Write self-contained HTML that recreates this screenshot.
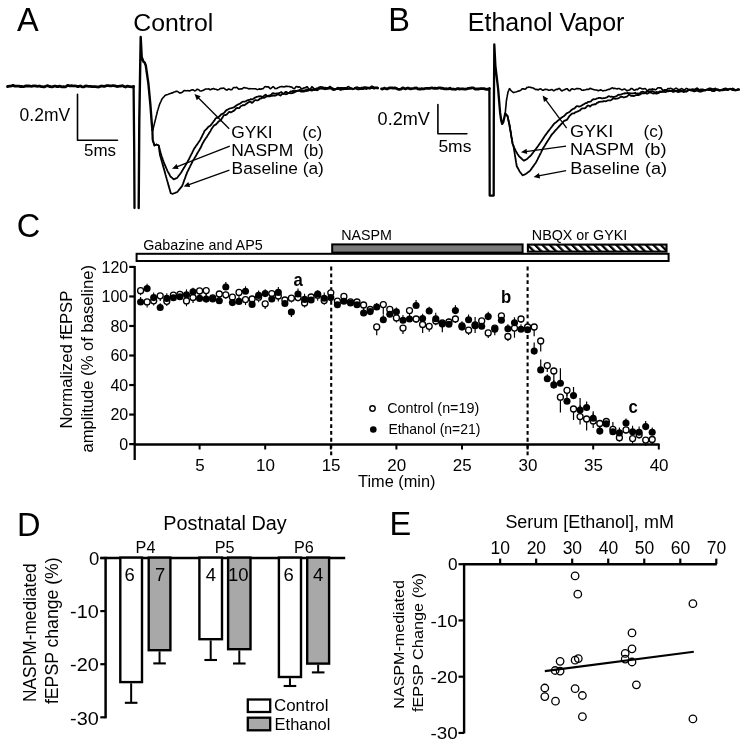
<!DOCTYPE html>
<html><head><meta charset="utf-8"><style>
html,body{margin:0;padding:0;background:#fff;}
svg{display:block;filter:blur(0.35px);}
text{font-family:"Liberation Sans", sans-serif;fill:#000;}
</style></head><body>
<svg width="749" height="747" viewBox="0 0 749 747">
<rect width="749" height="747" fill="#fff"/>
<text x="17" y="31" font-size="32.5" text-anchor="start" font-weight="normal" >A</text>
<text x="388.3" y="31" font-size="32.5" text-anchor="start" font-weight="normal" >B</text>
<text x="16.8" y="237" font-size="32.5" text-anchor="start" font-weight="normal" >C</text>
<text x="16.9" y="535.5" font-size="32.5" text-anchor="start" font-weight="normal" >D</text>
<text x="389.5" y="535.3" font-size="32.5" text-anchor="start" font-weight="normal" >E</text>
<text x="133.3" y="31.2" font-size="24.8" text-anchor="start" font-weight="normal" >Control</text>
<text x="467.8" y="31.2" font-size="25" text-anchor="start" font-weight="normal" >Ethanol Vapor</text>
<polyline points="7.5,86.5 8.5,86.4 9.5,86.2 10.5,86.2 11.5,86.0 12.5,85.5 13.5,85.5 14.5,86.2 15.5,86.2 16.5,86.2 17.5,86.2 18.5,86.1 19.5,86.2 20.5,86.7 21.5,86.4 22.5,86.7 23.5,86.7 24.5,86.4 25.5,86.0 26.5,86.0 27.5,86.0 28.5,86.0 29.5,86.0 30.5,86.2 31.5,86.3 32.5,86.2 33.5,85.8 34.5,85.8 35.5,86.0 36.5,86.1 37.5,86.3 38.5,86.2 39.5,86.0 40.5,86.4 41.5,86.7 42.5,86.6 43.5,86.8 44.5,86.9 45.5,86.3 46.5,86.0 47.5,85.7 48.5,86.0 49.5,86.5 50.5,86.5 51.5,86.8 52.5,86.8 53.5,86.4 54.5,86.2 55.5,86.2 56.5,86.5 57.5,86.6 58.5,86.5 59.5,86.2 60.5,86.4 61.5,86.8 62.5,86.9 63.5,86.7 64.5,86.8 65.5,86.8 66.5,86.1 67.5,85.5 68.5,85.5 69.5,85.8 70.5,85.9 71.6,85.7 72.6,85.8 73.6,86.0 74.6,85.8 75.6,86.0 76.6,86.2 77.6,86.6 78.6,86.5 79.6,86.2 80.6,86.0 81.6,86.6 82.6,86.8 83.6,86.9 84.6,86.4 85.6,86.0 86.6,86.0 87.6,86.2 88.6,86.3 89.6,86.4 90.6,86.3 91.6,86.6 92.6,86.6 93.6,86.7 94.6,86.5 95.6,86.7 96.6,86.9 97.6,86.9 98.6,87.0 99.6,86.6 100.6,86.2 101.6,86.0 102.6,86.2 103.6,86.4 104.6,86.4 105.6,86.0 106.6,85.7 107.6,85.6 108.6,85.7 109.6,85.8 110.6,85.9 111.6,85.8 112.6,85.7 113.6,85.7 114.6,85.8 115.6,85.9 116.6,86.4 117.6,86.5 118.6,86.3 119.6,86.2 120.6,86.1 121.6,85.8 122.6,85.7 123.6,86.2 124.6,86.7 125.6,87.0 126.6,86.4 127.6,86.2 128.6,86.4 129.6,86.6 130.6,86.7 131.6,86.8 132.6,86.8 133.6,86.4" fill="none" stroke="#000" stroke-width="2.8" stroke-linejoin="round" stroke-linecap="round" />
<polyline points="133.6,86.4 134.2,150.0 134.5,208.0" fill="none" stroke="#000" stroke-width="2.3" stroke-linejoin="round" stroke-linecap="round" />
<polyline points="138.7,208.0 139.3,120.0 140.7,37.0 141.7,56.8 143.3,61.5 144.6,62.5 145.8,65.5 148.4,83.6 150.4,105.0 151.8,123.7 152.4,130.0" fill="none" stroke="#000" stroke-width="2.4" stroke-linejoin="round" stroke-linecap="round" />
<polyline points="152.4,130.0 152.9,129.5 153.2,128.5 153.4,127.5 153.7,126.5 153.9,125.5 154.2,124.5 154.4,123.6 154.7,122.6 154.9,121.7 155.1,120.8 155.3,119.9 155.6,118.9 155.8,118.0 156.0,117.1 156.2,116.2 156.4,115.4 156.7,114.5 156.9,113.6 157.1,112.8 157.3,111.9 157.5,111.0 157.8,110.1 158.1,109.1 158.4,108.2 158.6,107.3 158.9,106.4 159.2,105.4 159.5,104.5 159.9,103.6 160.3,102.7 160.8,101.8 161.2,100.8 161.6,99.9 162.0,99.0 162.6,98.3 163.2,97.6 163.8,96.9 164.4,96.2 165.0,95.5 165.9,95.1 166.8,94.7 167.8,94.4 168.7,94.1 169.6,93.7 170.5,93.4 171.4,93.1 172.3,92.9 173.2,92.5 174.1,92.1 175.0,91.8 175.9,91.4 176.8,91.3 177.7,91.6 178.6,92.1 179.5,92.9 180.4,92.9 181.3,92.7 182.3,92.3 183.2,91.4 184.1,90.5 185.0,90.6 185.9,90.7 186.8,90.7 187.8,90.6 188.7,90.7 189.6,90.9 190.5,90.6 191.4,90.0 192.3,89.8 193.2,89.9 194.2,90.5 195.1,90.9 196.0,90.3 196.9,89.3 197.8,89.4 198.8,89.8 199.7,90.8 200.6,91.0 201.5,91.0 202.5,90.6 203.4,90.2 204.3,89.8 205.2,89.1 206.2,89.0 207.1,89.0 208.0,89.0 208.9,88.8 209.8,89.6 210.8,89.6 211.7,89.0 212.6,88.9 213.5,88.5 214.5,89.1 215.4,89.3 216.3,89.3 217.2,89.9 218.2,89.7 219.1,89.5 220.0,88.7 220.9,88.3 221.8,88.4 222.7,88.3 223.6,88.0 224.5,88.6 225.5,89.5 226.4,89.9 227.3,90.0 228.2,89.1 229.1,89.1 230.0,89.4 230.9,89.8 231.8,89.7 232.7,88.6 233.6,87.5 234.5,87.5 235.5,87.7 236.4,87.2 237.3,87.7 238.2,88.7 239.1,89.2 240.0,89.0 240.9,88.9 241.8,88.9 242.7,88.5 243.6,87.7 244.5,87.5 245.5,88.0 246.4,88.0 247.3,88.2 248.2,88.6 249.1,88.9 250.0,88.6 250.9,88.7 251.9,88.7 252.8,88.7 253.7,88.7 254.6,88.8 255.6,88.8 256.5,89.3 257.4,89.6 258.3,89.3 259.3,88.9 260.2,89.1 261.1,89.3 262.0,88.8 263.0,88.8 263.9,87.8 264.8,86.7 265.7,86.6 266.7,86.9 267.6,86.9 268.5,86.9 269.4,87.9 270.4,88.8 271.3,88.2 272.2,87.3 273.1,86.5 274.1,87.3 275.0,88.6 275.9,88.5 276.8,88.5 277.7,87.8 278.6,87.5 279.5,87.0 280.4,86.7 281.3,86.5 282.2,86.6 283.1,86.8 284.0,86.9 284.9,86.6 285.8,86.4 286.7,86.3 287.6,86.4 288.5,86.5 289.4,86.5 290.3,86.9 291.2,86.9 292.1,87.3 293.0,88.1 293.9,88.7 294.8,88.4 295.7,87.0 296.6,86.5 297.5,86.7 298.4,87.2 299.3,86.8 300.2,87.4 301.1,88.4 302.0,89.0 302.9,88.6 303.8,87.8 304.7,87.9 305.6,87.5 306.5,86.8 307.4,86.8 308.3,88.3 309.2,89.3 310.1,89.0 311.0,88.0 311.9,86.7 312.8,87.3 313.7,88.4 314.6,89.0 315.5,89.2 316.4,88.2 317.3,88.3 318.2,87.9 319.1,87.2 320.0,86.9 320.9,86.9 321.8,87.0 322.7,87.1 323.6,87.4 324.5,87.9 325.4,87.6 326.3,87.7 327.2,87.9 328.2,87.9 329.1,87.2 330.0,86.5 330.9,87.1 331.8,88.0 332.7,88.5 333.6,88.8 334.5,88.7 335.4,89.1 336.3,89.1 337.2,89.0 338.1,89.2 339.0,88.5 339.9,88.1 340.8,87.8 341.8,88.3 342.7,89.4 343.6,89.4 344.5,88.8 345.4,88.3 346.3,88.1 347.2,87.2 348.1,86.6 349.0,86.9 349.9,87.7 350.8,88.3 351.7,88.3 352.6,89.1 353.5,89.0 354.4,88.4 355.3,87.5 356.2,87.2 357.2,87.2 358.1,87.7 359.0,88.0 359.9,88.1 360.8,87.8 361.7,87.4 362.6,87.7 363.5,87.3 364.4,87.0 365.3,87.0 366.2,87.4 367.1,87.5 368.0,87.5 368.9,87.6 369.8,87.6 370.8,86.8 371.7,86.3 372.6,86.4 373.5,86.9 374.4,87.2 375.3,87.3 376.2,87.3 377.1,87.3 378.0,87.8" fill="none" stroke="#000" stroke-width="1.6" stroke-linejoin="round" stroke-linecap="round" />
<polyline points="152.4,130.0 152.4,130.9 152.5,131.8 152.5,132.8 152.5,133.7 152.5,134.6 152.6,135.5 152.6,136.4 152.6,137.3 152.6,138.3 152.7,139.2 152.7,140.1 153.0,141.0 153.3,141.9 153.6,142.8 153.9,143.7 154.2,144.6 154.5,145.5 155.5,145.0 156.5,144.5 157.6,145.0 158.7,145.5 158.9,146.4 159.2,147.3 159.4,148.2 159.7,149.1 159.9,150.1 160.1,151.0 160.4,151.9 160.6,152.8 160.9,153.7 161.1,154.6 161.4,155.5 161.7,156.5 162.1,157.4 162.4,158.3 162.7,159.3 163.0,160.2 163.4,161.1 163.7,162.1 164.0,163.0 164.4,163.8 164.7,164.7 165.1,165.5 165.5,166.4 165.8,167.2 166.2,168.0 166.6,168.9 167.0,169.7 167.3,170.6 167.7,171.4 168.2,172.2 168.6,173.1 169.1,173.9 169.6,174.8 170.0,175.7 170.5,176.5 171.3,177.2 172.1,177.9 172.9,178.6 173.7,179.3 174.8,178.9 175.9,178.4 177.0,178.0 177.6,177.2 178.1,176.5 178.7,175.7 179.3,175.0 179.9,174.2 180.4,173.5 181.0,172.7 181.5,171.9 182.0,171.1 182.5,170.3 183.0,169.4 183.5,168.6 184.0,167.8 184.5,167.0 185.0,166.2 185.4,165.4 185.9,164.6 186.3,163.8 186.8,163.0 187.3,162.2 187.7,161.4 188.2,160.6 188.6,159.7 189.1,158.9 189.5,158.0 189.9,157.2 190.3,156.3 190.8,155.5 191.2,154.6 191.6,153.7 192.1,152.9 192.5,152.0 192.9,151.2 193.3,150.3 193.8,149.5 194.2,148.6 194.7,147.8 195.3,147.1 195.8,146.3 196.3,145.6 196.8,144.9 197.4,144.1 197.9,143.3 198.4,142.6 198.9,141.8 199.5,141.0 200.0,140.1 200.4,139.3 200.8,138.6 201.3,137.8 201.7,137.0 202.1,136.1 202.5,135.2 202.9,134.4 203.3,133.6 203.8,132.7 204.2,131.7 204.6,130.7 205.3,130.2 205.9,129.6 206.6,128.9 207.3,128.1 207.9,127.4 208.6,126.7 209.3,126.2 209.9,126.0 210.6,125.4 211.2,124.6 211.9,123.7 212.5,122.8 213.2,122.0 213.8,121.1 214.5,120.3 215.1,119.2 215.8,118.3 216.4,117.9 217.1,117.9 217.7,117.8 218.4,117.4 219.0,116.7 219.7,116.0 220.5,115.3 221.2,114.4 222.0,114.0 222.7,113.9 223.4,113.3 224.2,112.7 224.9,112.0 225.6,111.0 226.4,110.3 227.1,109.9 227.9,109.5 228.6,109.0 229.5,108.7 230.3,108.3 231.2,108.1 232.0,107.9 232.9,107.6 233.7,107.3 234.6,106.9 235.4,106.2 236.3,105.5 237.1,105.0 238.0,104.5 238.8,104.1 239.7,103.7 240.5,103.4 241.4,102.5 242.2,102.0 243.1,101.7 244.0,101.7 244.8,101.7 245.7,101.3 246.5,100.8 247.4,100.4 248.2,100.1 249.1,99.8 250.0,99.5 250.8,99.1 251.7,99.4 252.5,99.3 253.4,98.8 254.2,98.2 255.1,97.6 256.0,97.2 256.8,96.9 257.7,96.7 258.5,96.4 259.4,96.4 260.2,96.2 261.1,96.3 262.0,96.9 262.9,96.8 263.9,96.0 264.8,95.3 265.7,94.6 266.6,95.4 267.5,96.0 268.5,95.7 269.4,95.3 270.3,95.5 271.2,94.7 272.1,93.6 273.1,93.2 274.0,93.5 274.9,93.7 275.8,93.7 276.7,93.5 277.6,93.5 278.6,93.4 279.5,92.9 280.4,92.5 281.3,92.0 282.2,93.1 283.2,93.8 284.1,93.5 285.0,92.4 285.9,91.9 286.8,92.2 287.7,92.8 288.6,93.1 289.5,92.6 290.4,91.5 291.3,91.5 292.2,91.3 293.1,90.9 294.0,91.1 294.9,90.7 295.8,90.8 296.7,90.8 297.6,90.7 298.5,90.9 299.4,90.8 300.3,91.1 301.2,91.6 302.1,91.7 302.9,91.5 303.8,91.6 304.7,91.4 305.6,90.4 306.5,89.5 307.4,89.7 308.3,89.9 309.2,90.1 310.1,90.1 311.0,90.3 311.9,90.6 312.8,90.2 313.7,89.6 314.6,89.3 315.5,89.3 316.4,90.1 317.3,90.3 318.2,89.7 319.1,88.8 320.0,88.4 320.9,88.3 321.8,88.5 322.7,88.4 323.6,88.5 324.5,89.2 325.4,89.3 326.3,88.7 327.2,88.6 328.2,88.5 329.1,88.2 330.0,87.8 330.9,87.9 331.8,88.2 332.7,88.4 333.6,88.8 334.5,89.0 335.4,89.3 336.3,89.1 337.2,88.6 338.1,88.5 339.0,88.2 339.9,88.2 340.8,88.0 341.8,87.9 342.7,88.0 343.6,88.2 344.5,87.9 345.4,87.9 346.3,88.0 347.2,88.2 348.1,88.7 349.0,88.8 349.9,88.9 350.8,88.9 351.7,88.9 352.6,89.3 353.5,89.0 354.4,88.7 355.3,88.5 356.2,88.6 357.2,89.1 358.1,89.4 359.0,89.3 359.9,89.1 360.8,89.1 361.7,89.1 362.6,89.0 363.5,88.8 364.4,88.7 365.3,88.7 366.2,89.0 367.1,88.8 368.0,88.3 368.9,88.1 369.8,88.4 370.8,88.2 371.7,87.9 372.6,87.6 373.5,87.6 374.4,87.7 375.3,88.1 376.2,88.2 377.1,88.5 378.0,88.2" fill="none" stroke="#000" stroke-width="1.8" stroke-linejoin="round" stroke-linecap="round" />
<polyline points="152.4,130.0 152.4,130.9 152.5,131.8 152.5,132.8 152.5,133.7 152.5,134.6 152.6,135.5 152.6,136.4 152.6,137.3 152.6,138.3 152.7,139.2 152.7,140.1 153.0,141.0 153.3,141.9 153.6,142.8 153.9,143.7 154.2,144.6 154.5,145.5 155.5,145.0 156.5,144.5 157.6,145.0 158.7,145.5 158.8,146.4 158.9,147.3 159.1,148.2 159.2,149.1 159.3,150.1 159.4,151.0 159.5,151.9 159.7,152.8 159.8,153.7 159.9,154.6 160.1,155.5 160.4,156.4 160.6,157.2 160.9,158.1 161.1,159.0 161.4,159.9 161.6,160.7 161.9,161.6 162.1,162.5 162.4,163.4 162.6,164.2 162.8,165.1 163.1,166.0 163.3,166.9 163.6,167.8 163.8,168.6 164.1,169.5 164.3,170.4 164.6,171.3 164.8,172.1 165.1,173.0 165.3,173.9 165.5,174.8 165.8,175.6 166.0,176.5 166.3,177.4 166.5,178.3 166.8,179.1 167.0,180.0 167.3,180.9 167.5,181.8 167.8,182.6 168.0,183.5 168.2,184.4 168.5,185.2 168.7,186.1 169.0,187.0 169.2,187.9 169.5,188.7 169.7,189.6 170.0,190.5 170.2,191.4 170.5,192.2 170.7,193.1 171.6,193.5 172.5,193.9 173.5,193.5 174.4,193.1 175.4,192.8 176.3,192.4 177.3,192.0 177.9,191.2 178.5,190.5 179.1,189.7 179.8,188.9 180.4,188.2 181.0,187.4 181.6,186.7 182.2,185.9 182.5,185.0 182.8,184.1 183.2,183.3 183.5,182.4 183.8,181.5 184.1,180.6 184.4,179.7 184.8,178.9 185.1,178.0 185.4,177.1 185.7,176.2 186.0,175.3 186.4,174.5 186.7,173.6 187.0,172.7 187.4,171.9 187.8,171.1 188.2,170.3 188.6,169.5 189.0,168.7 189.4,167.9 189.8,167.1 190.2,166.2 190.6,165.4 191.0,164.6 191.4,163.8 191.8,163.0 192.2,162.2 192.6,161.4 193.0,160.6 193.5,159.8 194.1,158.9 194.6,158.1 195.1,157.2 195.7,156.3 196.2,155.5 196.6,154.6 197.1,153.8 197.5,153.0 198.0,152.1 198.4,151.4 198.9,150.7 199.3,150.0 199.7,149.3 200.2,148.6 200.6,147.7 201.1,146.8 201.5,145.8 201.9,144.8 202.4,143.8 202.8,143.0 203.3,142.4 203.7,141.6 204.2,140.8 204.6,140.0 205.1,139.4 205.6,138.5 206.1,137.8 206.6,137.2 207.1,136.4 207.6,135.5 208.1,134.7 208.6,134.0 209.1,133.1 209.7,132.3 210.2,131.6 210.7,130.6 211.2,129.5 211.7,128.7 212.2,128.0 212.7,127.3 213.2,126.6 213.7,125.9 214.2,125.3 214.8,124.9 215.5,124.8 216.1,124.3 216.7,123.6 217.4,122.9 218.0,122.1 218.6,121.5 219.3,121.0 219.9,120.8 220.6,120.4 221.2,119.5 221.8,118.5 222.5,117.6 223.1,116.4 223.7,115.4 224.4,115.1 225.0,115.1 225.8,115.0 226.6,114.6 227.5,113.7 228.3,112.7 229.1,112.0 229.9,112.0 230.8,112.4 231.6,112.0 232.4,111.6 233.2,111.1 234.1,110.6 234.9,109.9 235.7,108.8 236.5,108.1 237.3,107.9 238.2,108.2 239.0,108.2 239.8,107.6 240.6,106.3 241.5,105.9 242.3,105.5 243.1,105.0 244.0,105.4 244.8,105.0 245.7,104.3 246.5,103.6 247.4,103.1 248.2,102.5 249.1,101.9 250.0,101.6 250.8,101.9 251.7,102.9 252.5,102.7 253.4,101.6 254.2,100.8 255.1,100.2 256.0,100.2 256.8,100.3 257.7,100.4 258.5,100.0 259.4,99.1 260.2,98.4 261.1,98.5 262.0,97.8 263.0,97.9 263.9,97.9 264.8,97.6 265.7,96.9 266.7,96.4 267.6,96.4 268.5,96.3 269.4,96.3 270.4,96.3 271.3,95.7 272.2,95.9 273.1,95.4 274.1,95.5 275.0,95.8 275.9,95.4 276.8,94.8 277.7,94.7 278.6,94.6 279.5,95.0 280.4,95.6 281.2,94.8 282.1,94.2 283.0,93.7 283.9,93.8 284.8,93.9 285.7,94.3 286.6,94.1 287.5,93.6 288.4,93.2 289.3,92.7 290.2,93.2 291.1,93.4 292.0,93.2 292.9,92.9 293.8,92.6 294.6,92.2 295.5,91.7 296.4,91.4 297.3,90.8 298.2,90.7 299.1,90.2 300.0,90.0 300.9,90.1 301.8,90.4 302.7,90.6 303.6,90.6 304.5,90.4 305.5,90.6 306.4,91.0 307.3,90.9 308.2,90.6 309.1,90.2 310.0,89.9 310.9,89.5 311.8,89.4 312.7,89.5 313.6,89.9 314.5,90.1 315.5,89.6 316.4,89.1 317.3,88.6 318.2,88.5 319.1,88.6 320.0,88.7 320.9,88.3 321.8,88.2 322.7,88.4 323.6,88.5 324.5,88.3 325.4,88.2 326.3,88.7 327.2,88.9 328.2,88.7 329.1,88.7 330.0,88.5 330.9,88.4 331.8,89.2 332.7,89.9 333.6,90.0 334.5,89.9 335.4,89.5 336.3,88.9 337.2,88.0 338.1,87.7 339.0,88.6 339.9,89.7 340.8,90.0 341.8,89.4 342.7,88.6 343.6,88.4 344.5,89.1 345.4,89.2 346.3,89.1 347.2,89.1 348.1,88.7 349.0,88.6 349.9,88.4 350.8,88.2 351.7,88.3 352.6,88.8 353.5,88.7 354.4,88.4 355.3,87.9 356.2,87.8 357.2,87.6 358.1,87.7 359.0,87.9 359.9,88.3 360.8,88.7 361.7,88.9 362.6,88.8 363.5,88.5 364.4,88.3 365.3,87.8 366.2,87.9 367.1,87.6 368.0,87.9 368.9,88.3 369.8,88.6 370.8,88.2 371.7,88.0 372.6,88.2 373.5,88.5 374.4,88.6 375.3,88.1 376.2,88.0 377.1,87.6 378.0,88.4" fill="none" stroke="#000" stroke-width="1.8" stroke-linejoin="round" stroke-linecap="round" />
<polyline points="77.5,94.3 77.5,140.2 117.5,140.2" fill="none" stroke="#000" stroke-width="1.6" stroke-linejoin="round" stroke-linecap="round" stroke-linecap="butt" stroke-linejoin="miter"/>
<text x="19.6" y="120.6" font-size="17.6" text-anchor="start" font-weight="normal" textLength="50.5" lengthAdjust="spacingAndGlyphs" >0.2mV</text>
<text x="84" y="156" font-size="16.5" text-anchor="start" font-weight="normal" textLength="32" lengthAdjust="spacingAndGlyphs" >5ms</text>
<line x1="229.2" y1="128.7" x2="198.03553390593274" y2="97.53553390593274" stroke="#000" stroke-width="1.3" />
<polygon points="194.5,94.0 200.7,96.3 196.8,100.2" fill="#000"/>
<line x1="229.8" y1="146.1" x2="176.65395317543306" y2="166.97223638265868" stroke="#000" stroke-width="1.3" />
<polygon points="172.0,168.8 176.6,164.1 178.6,169.1" fill="#000"/>
<line x1="229.4" y1="170.2" x2="188.30731273716145" y2="184.91441203298146" stroke="#000" stroke-width="1.3" />
<polygon points="183.6,186.6 188.3,182.0 190.2,187.1" fill="#000"/>
<text x="231.2" y="137.8" font-size="16.3" text-anchor="start" font-weight="normal" textLength="41.5" lengthAdjust="spacingAndGlyphs" >GYKI</text>
<text x="302.2" y="137.8" font-size="16.3" text-anchor="start" font-weight="normal" textLength="20" lengthAdjust="spacingAndGlyphs" >(c)</text>
<text x="231.2" y="155.8" font-size="16.3" text-anchor="start" font-weight="normal" textLength="62" lengthAdjust="spacingAndGlyphs" >NASPM</text>
<text x="303.6" y="155.8" font-size="16.3" text-anchor="start" font-weight="normal" textLength="20.2" lengthAdjust="spacingAndGlyphs" >(b)</text>
<text x="231.6" y="174.2" font-size="16.3" text-anchor="start" font-weight="normal" textLength="92.3" lengthAdjust="spacingAndGlyphs" >Baseline (a)</text>
<polyline points="381.5,88.9 382.5,89.0 383.5,88.5 384.5,88.2 385.5,88.5 386.5,88.9 387.6,88.8 388.6,88.3 389.6,87.9 390.6,87.8 391.6,87.9 392.6,88.0 393.6,88.2 394.6,87.9 395.6,88.2 396.6,88.5 397.6,89.0 398.6,89.3 399.7,89.3 400.7,89.2 401.7,88.7 402.7,87.9 403.7,88.2 404.7,88.6 405.7,88.9 406.7,88.3 407.7,88.0 408.7,88.2 409.7,88.7 410.7,88.9 411.8,88.7 412.8,88.5 413.8,88.3 414.8,88.0 415.8,88.1 416.8,88.0 417.8,88.8 418.8,89.0 419.8,88.9 420.8,89.0 421.8,88.7 422.8,88.8 423.9,88.8 424.9,88.5 425.9,88.3 426.9,88.3 427.9,88.4 428.9,88.4 429.9,88.3 430.9,88.0 431.9,87.8 432.9,88.1 433.9,88.3 434.9,88.1 436.0,88.4 437.0,88.4 438.0,88.1 439.0,87.9 440.0,87.8 441.0,88.3 442.0,88.2 443.0,88.3 444.0,88.8 445.0,88.8 446.0,88.7 447.0,88.8 448.1,88.9 449.1,88.7 450.1,88.2 451.1,89.0 452.1,89.2 453.1,89.0 454.1,89.2 455.1,89.3 456.1,89.1 457.1,88.7 458.1,88.5 459.1,89.0 460.2,88.8 461.2,88.9 462.2,88.8 463.2,88.8 464.2,89.2 465.2,89.1 466.2,89.0 467.2,88.8 468.2,88.4 469.2,88.4 470.2,88.1 471.2,88.0 472.3,87.8 473.3,87.9 474.3,88.5 475.3,89.2 476.3,89.0 477.3,88.9 478.3,89.0 479.3,88.9 480.3,88.7 481.3,88.5 482.3,88.7 483.3,88.6 484.4,88.7 485.4,89.2 486.4,89.3 487.4,89.1 488.4,89.3 489.4,88.6" fill="none" stroke="#000" stroke-width="2.8" stroke-linejoin="round" stroke-linecap="round" />
<polyline points="489.4,88.6 489.6,150.0 489.7,195.6 493.7,195.6 493.8,120.0 494.3,44.4 495.4,65.8 498.1,88.6 500.1,112.7 501.3,121.0 502.2,123.9 503.3,122.0 505.2,113.7" fill="none" stroke="#000" stroke-width="2.3" stroke-linejoin="round" stroke-linecap="round" />
<polyline points="505.2,113.7 505.3,112.8 505.4,111.9 505.5,111.0 505.5,110.0 505.6,109.1 505.7,108.2 505.8,107.3 505.9,106.4 506.0,105.5 506.1,104.6 506.2,103.7 506.2,102.7 506.3,101.8 506.4,100.9 506.5,100.0 506.7,99.1 506.8,98.2 507.0,97.3 507.2,96.4 507.3,95.6 507.5,94.7 507.7,93.8 507.8,92.9 508.0,92.0 508.4,91.2 508.8,90.3 509.1,89.4 509.5,88.6 510.2,89.4 510.8,90.2 511.5,91.0 512.5,91.8 513.5,92.6 514.5,92.2 515.4,92.0 516.4,91.7 517.3,91.4 518.3,91.1 519.2,90.9 520.2,90.6 521.2,89.8 522.1,88.9 523.1,88.7 524.0,88.9 525.0,89.2 525.9,88.8 526.9,87.4 527.8,87.5 528.8,87.1 529.7,87.2 530.6,87.4 531.6,87.6 532.5,87.7 533.5,88.2 534.4,88.7 535.3,89.4 536.3,89.6 537.2,89.3 538.1,90.0 539.1,89.3 540.0,88.9 540.9,89.0 541.8,89.7 542.7,90.3 543.6,90.1 544.5,89.5 545.5,89.2 546.4,89.4 547.3,89.5 548.2,90.1 549.1,90.3 550.0,90.1 550.9,89.8 551.8,89.6 552.7,90.0 553.6,90.8 554.5,90.5 555.5,89.7 556.4,89.2 557.3,89.5 558.2,88.8 559.1,88.4 560.0,89.0 560.9,90.2 561.8,90.9 562.7,90.5 563.6,90.1 564.5,89.8 565.5,89.2 566.4,88.8 567.3,88.7 568.2,89.9 569.1,90.8 570.0,90.6 570.9,89.6 571.8,88.7 572.7,88.9 573.6,89.3 574.5,89.5 575.5,89.1 576.4,88.6 577.3,88.5 578.2,88.6 579.1,88.7 580.0,88.7 580.9,89.4 581.8,90.1 582.7,90.3 583.6,90.1 584.5,90.0 585.5,89.7 586.4,89.4 587.3,89.3 588.2,89.4 589.1,89.2 590.0,88.4 590.9,88.6 591.8,88.9 592.7,89.2 593.6,89.6 594.5,89.7 595.5,90.0 596.4,90.0 597.3,90.3 598.2,90.8 599.1,90.4 600.0,90.1 600.9,89.9 601.8,90.3 602.7,90.9 603.6,90.8 604.5,90.5 605.5,90.5 606.4,90.3 607.3,89.7 608.2,89.4 609.1,89.5 610.0,89.1 610.9,88.5 611.8,88.0 612.7,87.9 613.6,88.6 614.5,88.3 615.5,88.5 616.4,88.7 617.3,88.9 618.2,88.5 619.1,88.5 620.0,88.9 620.9,89.4 621.8,89.9 622.7,89.7 623.6,89.3 624.5,89.1 625.5,89.5 626.4,90.6 627.3,90.7 628.2,90.2 629.1,90.1 630.0,89.7 630.9,88.5 631.8,88.6 632.7,89.0 633.6,89.9 634.5,90.2 635.5,89.7 636.4,89.3 637.3,89.7 638.2,89.0 639.1,88.1 640.0,88.1 640.9,88.2 641.8,88.8 642.7,89.0 643.6,88.9 644.5,88.6 645.5,88.8 646.4,89.8 647.3,90.6 648.2,90.2 649.1,89.3 650.0,89.4 650.9,89.6 651.8,89.1 652.7,88.9 653.6,89.2 654.5,89.3 655.5,89.9 656.4,89.3 657.3,88.3 658.2,87.8 659.1,87.7 660.0,88.1 660.9,87.8 661.8,89.0 662.7,90.2 663.6,90.2 664.5,89.7 665.5,89.8 666.4,89.7 667.3,89.2 668.2,88.5 669.1,89.0 670.0,88.4 670.9,88.4 671.8,88.8 672.7,89.1 673.6,89.6 674.5,89.1 675.5,88.4 676.4,88.2 677.3,88.9 678.2,89.5 679.1,89.5 680.0,89.3 680.9,88.9 681.8,88.6 682.7,89.1 683.6,89.7 684.5,89.8 685.4,89.2 686.4,88.4 687.3,88.7 688.2,89.4 689.1,89.9 690.0,89.8 690.9,89.4 691.8,89.2 692.7,89.1 693.6,89.3 694.5,89.4 695.4,89.2 696.3,88.5 697.2,88.1 698.2,88.9 699.1,89.7 700.0,89.9 700.9,89.2 701.8,89.3 702.7,89.3 703.6,89.6 704.5,89.9 705.4,89.9 706.3,90.1 707.2,89.6 708.1,89.0 709.0,88.4 710.0,88.2 710.9,88.4 711.8,89.0 712.7,89.3 713.6,89.3 714.5,88.7 715.4,88.3 716.3,89.1 717.2,90.1 718.1,90.4 719.0,90.7 719.9,90.7 720.8,90.1 721.8,89.5 722.7,89.2 723.6,88.7 724.5,88.6 725.4,88.2 726.3,88.6 727.2,89.2 728.1,89.2 729.0,89.3 729.9,89.3 730.8,89.4 731.7,89.0 732.6,88.5 733.6,88.8 734.5,89.4 735.4,90.3 736.3,90.4 737.2,90.1 738.1,89.8 739.0,89.4" fill="none" stroke="#000" stroke-width="1.6" stroke-linejoin="round" stroke-linecap="round" />
<polyline points="505.2,113.7 506.0,114.5 506.7,115.2 507.5,116.0 507.7,116.9 507.9,117.8 508.1,118.7 508.3,119.6 508.5,120.5 508.7,121.5 508.9,122.4 509.1,123.3 509.3,124.2 509.5,125.1 509.6,126.0 509.8,126.9 509.9,127.8 510.1,128.7 510.2,129.6 510.4,130.5 510.6,131.4 510.7,132.3 510.9,133.2 511.0,134.1 511.1,135.1 511.3,136.0 511.4,136.9 511.6,137.8 511.8,138.7 511.9,139.6 512.0,140.5 512.2,141.4 512.4,142.3 512.5,143.2 512.8,144.1 513.2,145.1 513.5,146.0 513.9,146.9 514.3,147.8 514.8,148.8 515.2,149.7 515.6,150.6 516.0,151.5 516.5,152.3 517.0,153.1 517.5,153.9 518.1,154.8 518.6,155.6 519.1,156.4 519.8,157.0 520.5,157.6 521.2,158.2 521.8,158.9 522.5,159.5 523.2,160.1 523.9,160.7 524.9,160.1 526.0,159.6 527.0,159.0 527.7,158.4 528.4,157.7 529.0,157.1 529.7,156.5 530.4,155.8 531.1,155.2 531.7,154.5 532.2,153.7 532.8,153.0 533.3,152.2 533.9,151.5 534.5,150.8 535.0,150.0 535.6,149.3 536.2,148.6 536.7,147.8 537.3,147.1 537.8,146.3 538.4,145.6 538.9,144.8 539.4,144.1 539.9,143.3 540.5,142.5 541.0,141.7 541.5,141.0 542.0,140.2 542.5,139.4 543.0,138.7 543.5,137.9 544.1,137.1 544.6,136.3 545.1,135.6 545.6,134.8 546.2,134.1 546.7,133.3 547.3,132.6 547.8,131.9 548.4,131.2 549.0,130.4 549.5,129.7 550.1,129.0 550.6,128.3 551.2,127.5 551.8,126.8 552.3,126.1 552.9,125.4 553.4,124.6 554.0,123.9 554.7,123.3 555.4,122.7 556.1,122.2 556.8,121.6 557.5,121.0 558.2,120.4 559.0,119.8 559.7,119.2 560.4,118.5 561.1,117.9 561.8,117.4 562.5,116.9 563.3,116.5 564.1,116.0 564.8,115.3 565.6,114.5 566.4,113.6 567.2,113.1 568.0,112.7 568.8,112.3 569.5,111.9 570.3,111.2 571.1,110.3 571.9,109.7 572.7,109.1 573.4,108.7 574.2,108.6 575.0,107.8 575.8,107.0 576.7,106.2 577.5,106.2 578.3,106.4 579.2,106.7 580.0,106.3 580.8,106.0 581.7,105.4 582.5,104.9 583.3,104.4 584.2,104.1 585.0,103.6 585.8,103.1 586.7,103.1 587.5,102.3 588.3,101.9 589.2,101.8 590.0,101.7 590.9,101.4 591.8,100.4 592.7,99.5 593.6,99.2 594.5,99.3 595.5,99.2 596.4,98.8 597.3,98.3 598.2,98.1 599.1,97.8 600.0,97.8 600.9,98.1 601.8,98.4 602.7,98.3 603.6,98.1 604.5,98.1 605.4,97.9 606.2,97.7 607.1,97.2 608.0,96.5 608.9,96.2 609.8,96.5 610.7,96.8 611.6,96.5 612.5,96.8 613.4,97.0 614.3,96.9 615.2,96.7 616.1,96.2 617.0,95.9 617.9,95.0 618.8,94.6 619.6,94.8 620.5,94.7 621.4,94.3 622.3,94.0 623.2,93.7 624.1,93.6 625.0,93.1 625.9,93.4 626.9,93.2 627.8,93.0 628.7,93.1 629.6,93.2 630.6,93.3 631.5,93.4 632.4,93.4 633.3,93.3 634.3,93.2 635.2,92.7 636.1,93.6 637.0,93.6 638.0,93.4 638.9,93.6 639.8,93.3 640.7,92.3 641.7,91.8 642.6,91.7 643.5,91.9 644.4,92.3 645.4,92.2 646.3,92.0 647.2,91.5 648.1,91.4 649.1,91.5 650.0,91.3 650.9,91.3 651.8,91.2 652.7,91.1 653.6,91.5 654.5,92.3 655.5,92.3 656.4,92.0 657.3,92.1 658.2,92.2 659.1,91.9 660.0,91.4 660.9,91.5 661.8,91.7 662.7,91.8 663.6,91.6 664.5,91.0 665.5,90.2 666.4,90.2 667.3,90.6 668.2,90.9 669.1,90.9 670.0,91.2 670.9,91.2 671.8,90.8 672.7,90.0 673.6,89.9 674.5,90.5 675.5,91.0 676.4,91.0 677.3,91.0 678.2,90.2 679.1,90.4 680.0,90.4 680.9,90.5 681.8,90.8 682.7,91.1 683.6,90.7 684.5,90.9 685.4,91.2 686.4,91.4 687.3,91.1 688.2,90.0 689.1,89.4 690.0,89.8 690.9,90.6 691.8,90.5 692.7,90.4 693.6,90.4 694.5,90.3 695.4,89.9 696.3,89.6 697.2,89.9 698.2,90.0 699.1,90.2 700.0,90.4 700.9,90.1 701.8,89.8 702.7,90.1 703.6,90.3 704.5,90.2 705.4,90.2 706.3,89.7 707.2,89.7 708.1,89.7 709.0,89.7 710.0,89.8 710.9,89.5 711.8,89.4 712.7,89.1 713.6,89.2 714.5,89.8 715.4,89.6 716.3,89.7 717.2,89.5 718.1,89.4 719.0,90.0 719.9,90.4 720.8,90.2 721.8,90.1 722.7,90.1 723.6,90.1 724.5,90.1 725.4,89.8 726.3,89.8 727.2,90.0 728.1,90.2 729.0,89.4 729.9,88.7 730.8,88.9 731.7,89.6 732.6,90.1 733.6,90.1 734.5,90.3 735.4,90.3 736.3,90.1 737.2,89.4 738.1,89.0 739.0,89.5" fill="none" stroke="#000" stroke-width="1.8" stroke-linejoin="round" stroke-linecap="round" />
<polyline points="505.2,113.7 506.0,114.5 506.7,115.2 507.5,116.0 507.7,116.9 507.9,117.8 508.1,118.7 508.3,119.6 508.5,120.5 508.7,121.5 508.9,122.4 509.1,123.3 509.3,124.2 509.5,125.1 509.6,126.0 509.8,126.9 509.9,127.8 510.1,128.7 510.2,129.6 510.4,130.5 510.6,131.4 510.7,132.3 510.9,133.2 511.0,134.1 511.1,135.1 511.3,136.0 511.4,136.9 511.6,137.8 511.8,138.7 511.9,139.6 512.0,140.5 512.2,141.4 512.4,142.3 512.5,143.2 512.8,144.1 513.2,145.1 513.5,146.0 513.6,146.9 513.8,147.8 513.9,148.7 514.1,149.7 514.2,150.6 514.4,151.5 514.5,152.4 514.7,153.3 514.8,154.2 515.0,155.1 515.1,156.1 515.2,157.0 515.4,157.9 515.5,158.8 515.7,159.7 515.8,160.6 516.0,161.5 516.1,162.4 516.3,163.4 516.4,164.3 516.6,165.2 516.7,166.1 517.2,166.9 517.6,167.8 518.1,168.6 518.6,169.5 519.1,170.3 519.5,171.2 520.0,172.0 520.7,172.8 521.4,173.7 522.0,174.5 522.7,175.3 523.5,174.9 524.4,174.6 525.2,174.2 526.0,173.8 526.8,173.2 527.6,172.6 528.3,172.1 529.1,171.5 529.9,170.9 530.5,170.1 531.0,169.4 531.6,168.6 532.1,167.8 532.7,167.1 533.2,166.3 533.8,165.6 534.3,164.8 534.9,164.0 535.4,163.3 536.0,162.5 536.4,161.6 536.8,160.8 537.3,159.9 537.7,159.1 538.1,158.2 538.5,157.4 539.0,156.5 539.4,155.7 539.8,154.8 540.2,154.0 540.7,153.1 541.1,152.3 541.5,151.4 541.9,150.6 542.4,149.7 542.8,148.9 543.2,148.0 543.7,147.2 544.2,146.4 544.7,145.7 545.2,144.9 545.7,144.1 546.2,143.3 546.7,142.6 547.2,141.8 547.6,141.0 548.1,140.2 548.6,139.5 549.1,138.7 549.6,137.9 550.1,137.1 550.6,136.4 551.1,135.6 551.6,134.8 552.2,134.1 552.8,133.4 553.4,132.8 554.0,132.1 554.6,131.4 555.2,130.7 555.8,130.0 556.5,129.3 557.1,128.7 557.7,128.0 558.3,127.3 558.9,126.6 559.5,126.0 560.1,125.4 560.7,124.7 561.3,124.0 562.0,123.3 562.7,122.6 563.4,121.7 564.0,121.0 564.7,120.6 565.4,120.5 566.1,120.2 566.8,119.9 567.5,119.1 568.1,118.1 568.8,117.0 569.5,115.9 570.2,115.3 570.9,114.6 571.6,114.1 572.3,113.5 572.9,113.3 573.6,113.4 574.3,113.4 575.0,112.5 575.8,112.1 576.7,111.9 577.5,111.5 578.3,111.1 579.2,110.7 580.0,110.5 580.8,109.4 581.7,108.7 582.5,108.4 583.3,108.3 584.2,108.4 585.0,108.2 585.8,107.5 586.7,106.6 587.5,105.7 588.3,105.5 589.2,105.9 590.0,106.6 590.9,105.7 591.8,105.0 592.7,104.7 593.6,104.7 594.5,104.1 595.5,104.3 596.4,103.5 597.3,102.6 598.2,102.5 599.1,101.8 600.0,101.8 600.9,101.7 601.8,101.6 602.7,101.6 603.6,101.1 604.5,101.2 605.4,101.3 606.2,101.2 607.1,100.7 608.0,100.3 608.9,100.4 609.8,100.4 610.7,100.3 611.6,99.8 612.5,98.8 613.4,98.6 614.3,98.7 615.2,98.8 616.1,98.6 617.0,98.7 617.9,98.4 618.8,98.0 619.6,97.6 620.5,97.0 621.4,96.6 622.3,96.8 623.2,97.3 624.1,97.3 625.0,97.2 625.9,96.8 626.8,96.6 627.7,95.8 628.6,94.9 629.5,94.7 630.4,95.4 631.2,95.9 632.1,95.7 633.0,96.0 633.9,96.0 634.8,95.6 635.7,95.2 636.6,95.1 637.5,95.0 638.4,95.0 639.3,94.8 640.2,94.4 641.1,93.8 642.0,93.4 642.9,93.3 643.8,93.4 644.6,93.3 645.5,92.9 646.4,93.5 647.3,93.6 648.2,93.2 649.1,92.6 650.0,92.6 650.9,92.7 651.8,93.0 652.7,93.3 653.6,93.5 654.5,93.1 655.5,93.3 656.4,93.5 657.3,93.5 658.2,93.2 659.1,92.8 660.0,92.1 660.9,92.0 661.8,91.8 662.7,91.7 663.6,91.5 664.5,91.8 665.5,92.1 666.4,91.7 667.3,91.2 668.2,91.4 669.1,90.9 670.0,91.0 670.9,90.8 671.8,91.0 672.7,91.9 673.6,91.9 674.5,91.4 675.5,91.1 676.4,91.1 677.3,91.9 678.2,92.0 679.1,91.8 680.0,91.5 680.9,91.3 681.8,91.2 682.7,91.7 683.6,92.0 684.5,91.8 685.4,91.6 686.4,91.5 687.3,91.2 688.2,90.2 689.1,90.1 690.0,90.1 690.9,90.1 691.8,89.8 692.7,90.7 693.6,91.3 694.5,91.3 695.4,91.1 696.3,90.6 697.2,90.7 698.2,91.1 699.1,91.5 700.0,91.5 700.9,91.5 701.8,91.3 702.7,91.0 703.6,90.6 704.5,90.6 705.4,90.5 706.3,89.7 707.2,89.6 708.1,89.8 709.0,90.1 710.0,90.1 710.9,89.9 711.8,90.8 712.7,91.1 713.6,90.9 714.5,91.0 715.4,90.2 716.3,90.0 717.2,89.7 718.1,89.7 719.0,89.8 719.9,90.4 720.8,90.2 721.8,90.3 722.7,90.4 723.6,90.1 724.5,89.5 725.4,89.0 726.3,89.0 727.2,89.1 728.1,89.5 729.0,89.3 729.9,88.8 730.8,88.9 731.7,89.0 732.6,88.6 733.6,89.2 734.5,89.8 735.4,90.3 736.3,90.1 737.2,89.7 738.1,89.8 739.0,89.6" fill="none" stroke="#000" stroke-width="1.8" stroke-linejoin="round" stroke-linecap="round" />
<polyline points="437.9,104.5 437.9,133.8 466.9,133.8" fill="none" stroke="#000" stroke-width="1.6" stroke-linejoin="round" stroke-linecap="round" stroke-linecap="butt" stroke-linejoin="miter"/>
<text x="377.6" y="125.3" font-size="17.8" text-anchor="start" font-weight="normal" textLength="52.3" lengthAdjust="spacingAndGlyphs" >0.2mV</text>
<text x="438.4" y="151.6" font-size="17" text-anchor="start" font-weight="normal" textLength="33" lengthAdjust="spacingAndGlyphs" >5ms</text>
<line x1="566.7" y1="128.1" x2="545.5782060969789" y2="99.61625303534498" stroke="#000" stroke-width="1.3" />
<polygon points="542.6,95.6 548.3,98.8 544.0,102.0" fill="#000"/>
<line x1="566.1" y1="146.2" x2="525.856521753806" y2="151.54205463445052" stroke="#000" stroke-width="1.3" />
<polygon points="520.9,152.2 526.5,148.7 527.2,154.1" fill="#000"/>
<line x1="566.1" y1="170.7" x2="538.5114280915693" y2="175.96305064099292" stroke="#000" stroke-width="1.3" />
<polygon points="533.6,176.9 539.0,173.1 540.0,178.4" fill="#000"/>
<text x="570.0" y="137.1" font-size="16.8" text-anchor="start" font-weight="normal" textLength="43.2" lengthAdjust="spacingAndGlyphs" >GYKI</text>
<text x="643.5" y="137.1" font-size="16.8" text-anchor="start" font-weight="normal" textLength="20" lengthAdjust="spacingAndGlyphs" >(c)</text>
<text x="570.0" y="155.4" font-size="16.8" text-anchor="start" font-weight="normal" textLength="64" lengthAdjust="spacingAndGlyphs" >NASPM</text>
<text x="644.3" y="155.4" font-size="16.8" text-anchor="start" font-weight="normal" textLength="22.3" lengthAdjust="spacingAndGlyphs" >(b)</text>
<text x="570.3" y="174.2" font-size="16.8" text-anchor="start" font-weight="normal" textLength="96.8" lengthAdjust="spacingAndGlyphs" >Baseline (a)</text>
<defs><pattern id="hatch" patternUnits="userSpaceOnUse" width="5.23" height="5.23" patternTransform="rotate(-45)"><rect width="5.23" height="5.23" fill="#fff"/><rect width="2.3" height="5.23" fill="#000"/></pattern></defs>
<rect x="136.6" y="253.8" width="532" height="7.2" fill="#fff" stroke="#000" stroke-width="2"/>
<rect x="332.2" y="244.4" width="190.4" height="8.2" fill="#7a7a7a" stroke="#000" stroke-width="2"/>
<rect x="527.9" y="244.6" width="138.6" height="7" fill="url(#hatch)" stroke="#000" stroke-width="2.1"/>
<text x="143.2" y="249.6" font-size="14.5" text-anchor="start" font-weight="normal" textLength="119.5" lengthAdjust="spacingAndGlyphs" >Gabazine and AP5</text>
<text x="341.2" y="239.8" font-size="14.3" text-anchor="start" font-weight="normal" textLength="50.8" lengthAdjust="spacingAndGlyphs" >NASPM</text>
<text x="531.8" y="240.3" font-size="14.5" text-anchor="start" font-weight="normal" textLength="95.5" lengthAdjust="spacingAndGlyphs" >NBQX or GYKI</text>
<line x1="134.7" y1="266" x2="134.7" y2="460" stroke="#000" stroke-width="2.3" />
<line x1="133.6" y1="444.5" x2="659.5" y2="444.5" stroke="#000" stroke-width="2.3" />
<line x1="129.2" y1="444.1" x2="134.7" y2="444.1" stroke="#000" stroke-width="2.2" />
<text x="128.2" y="449.70000000000005" font-size="16" text-anchor="end" font-weight="normal" >0</text>
<line x1="129.2" y1="414.57000000000005" x2="134.7" y2="414.57000000000005" stroke="#000" stroke-width="2.2" />
<text x="128.2" y="420.1700000000001" font-size="16" text-anchor="end" font-weight="normal" >20</text>
<line x1="129.2" y1="385.04" x2="134.7" y2="385.04" stroke="#000" stroke-width="2.2" />
<text x="128.2" y="390.64000000000004" font-size="16" text-anchor="end" font-weight="normal" >40</text>
<line x1="129.2" y1="355.51000000000005" x2="134.7" y2="355.51000000000005" stroke="#000" stroke-width="2.2" />
<text x="128.2" y="361.11000000000007" font-size="16" text-anchor="end" font-weight="normal" >60</text>
<line x1="129.2" y1="325.98" x2="134.7" y2="325.98" stroke="#000" stroke-width="2.2" />
<text x="128.2" y="331.58000000000004" font-size="16" text-anchor="end" font-weight="normal" >80</text>
<line x1="129.2" y1="296.45000000000005" x2="134.7" y2="296.45000000000005" stroke="#000" stroke-width="2.2" />
<text x="128.2" y="302.05000000000007" font-size="16" text-anchor="end" font-weight="normal" >100</text>
<line x1="129.2" y1="266.9200000000001" x2="134.7" y2="266.9200000000001" stroke="#000" stroke-width="2.2" />
<text x="128.2" y="272.5200000000001" font-size="16" text-anchor="end" font-weight="normal" >120</text>
<line x1="199.6" y1="444" x2="199.6" y2="449.5" stroke="#000" stroke-width="2" />
<text x="199.9" y="470.5" font-size="17" text-anchor="middle" font-weight="normal" >5</text>
<line x1="265.2" y1="444" x2="265.2" y2="449.5" stroke="#000" stroke-width="2" />
<text x="265.5" y="470.5" font-size="17" text-anchor="middle" font-weight="normal" >10</text>
<line x1="330.79999999999995" y1="444" x2="330.79999999999995" y2="449.5" stroke="#000" stroke-width="2" />
<text x="331.09999999999997" y="470.5" font-size="17" text-anchor="middle" font-weight="normal" >15</text>
<line x1="396.4" y1="444" x2="396.4" y2="449.5" stroke="#000" stroke-width="2" />
<text x="396.7" y="470.5" font-size="17" text-anchor="middle" font-weight="normal" >20</text>
<line x1="462.0" y1="444" x2="462.0" y2="449.5" stroke="#000" stroke-width="2" />
<text x="462.3" y="470.5" font-size="17" text-anchor="middle" font-weight="normal" >25</text>
<line x1="527.5999999999999" y1="444" x2="527.5999999999999" y2="449.5" stroke="#000" stroke-width="2" />
<text x="527.8999999999999" y="470.5" font-size="17" text-anchor="middle" font-weight="normal" >30</text>
<line x1="593.2" y1="444" x2="593.2" y2="449.5" stroke="#000" stroke-width="2" />
<text x="593.5" y="470.5" font-size="17" text-anchor="middle" font-weight="normal" >35</text>
<line x1="658.8" y1="444" x2="658.8" y2="449.5" stroke="#000" stroke-width="2" />
<text x="659.0999999999999" y="470.5" font-size="17" text-anchor="middle" font-weight="normal" >40</text>
<text x="396.8" y="487.1" font-size="16.5" text-anchor="middle" font-weight="normal" textLength="77.5" lengthAdjust="spacingAndGlyphs" >Time (min)</text>
<text transform="translate(71.5,359.6) rotate(-90)" font-size="16" text-anchor="middle" textLength="137.8" lengthAdjust="spacingAndGlyphs">Normalized fEPSP</text>
<text transform="translate(92.6,358.8) rotate(-90)" font-size="16.5" text-anchor="middle" textLength="187.5" lengthAdjust="spacingAndGlyphs">amplitude (% of baseline)</text>
<line x1="331.2" y1="266.6" x2="331.2" y2="455.8" stroke="#000" stroke-width="2.1" stroke-dasharray="3.8 3.05"/>
<line x1="527.6" y1="266.6" x2="527.6" y2="455.8" stroke="#000" stroke-width="2.1" stroke-dasharray="3.8 3.05"/>
<line x1="140.56" y1="290.7" x2="140.56" y2="295.2952350177216" stroke="#000" stroke-width="1.1" />
<line x1="140.56" y1="296.9685007506229" x2="140.56" y2="302.0" stroke="#000" stroke-width="1.1" />
<line x1="147.12" y1="301.9" x2="147.12" y2="307.5332632848522" stroke="#000" stroke-width="1.1" />
<line x1="147.12" y1="283.7755698457805" x2="147.12" y2="288.6" stroke="#000" stroke-width="1.1" />
<line x1="153.68" y1="300.8" x2="153.68" y2="305.51725080073703" stroke="#000" stroke-width="1.1" />
<line x1="153.68" y1="292.5077533765302" x2="153.68" y2="297.6" stroke="#000" stroke-width="1.1" />
<line x1="160.24" y1="295.8" x2="160.24" y2="301" stroke="#000" stroke-width="1.2" />
<line x1="160.24" y1="303.29374724351925" x2="160.24" y2="307.5" stroke="#000" stroke-width="1.1" />
<line x1="166.8" y1="301.3" x2="166.8" y2="306.026199005892" stroke="#000" stroke-width="1.1" />
<line x1="166.8" y1="293.214258015523" x2="166.8" y2="298.4" stroke="#000" stroke-width="1.1" />
<line x1="173.36" y1="295.1" x2="173.36" y2="300.4445491195439" stroke="#000" stroke-width="1.1" />
<line x1="173.36" y1="293.6929283962957" x2="173.36" y2="297.7" stroke="#000" stroke-width="1.1" />
<line x1="179.92" y1="294.4" x2="179.92" y2="298.66748277777396" stroke="#000" stroke-width="1.1" />
<line x1="179.92" y1="292.70052481751793" x2="179.92" y2="296.7" stroke="#000" stroke-width="1.1" />
<line x1="186.48" y1="300.9" x2="186.48" y2="306.2812179756078" stroke="#000" stroke-width="1.1" />
<line x1="186.48" y1="289.3744353384092" x2="186.48" y2="294.7" stroke="#000" stroke-width="1.1" />
<line x1="193.04" y1="297.5" x2="193.04" y2="303" stroke="#000" stroke-width="1.2" />
<line x1="193.04" y1="287.80786325998633" x2="193.04" y2="291.7" stroke="#000" stroke-width="1.1" />
<line x1="199.6" y1="290.9" x2="199.6" y2="296.66082552575733" stroke="#000" stroke-width="1.1" />
<line x1="199.6" y1="292.4775328815237" x2="199.6" y2="298.4" stroke="#000" stroke-width="1.1" />
<line x1="206.16" y1="290.6" x2="206.16" y2="295.6386295737745" stroke="#000" stroke-width="1.1" />
<line x1="206.16" y1="293.94576204992717" x2="206.16" y2="299.1" stroke="#000" stroke-width="1.1" />
<line x1="212.72" y1="298.0" x2="212.72" y2="301.9464870093084" stroke="#000" stroke-width="1.1" />
<line x1="212.72" y1="295.16699837871084" x2="212.72" y2="299.0" stroke="#000" stroke-width="1.1" />
<line x1="219.28" y1="294.0" x2="219.28" y2="298.76243878557506" stroke="#000" stroke-width="1.1" />
<line x1="219.28" y1="296.86898756862854" x2="219.28" y2="300.8" stroke="#000" stroke-width="1.1" />
<line x1="225.83999999999997" y1="294.8" x2="225.83999999999997" y2="298.8184581781555" stroke="#000" stroke-width="1.1" />
<line x1="225.83999999999997" y1="282" x2="225.83999999999997" y2="287" stroke="#000" stroke-width="1.2" />
<line x1="232.39999999999998" y1="297.2" x2="232.39999999999998" y2="301.33227463006347" stroke="#000" stroke-width="1.1" />
<line x1="232.39999999999998" y1="298.7338183037055" x2="232.39999999999998" y2="302.6" stroke="#000" stroke-width="1.1" />
<line x1="238.95999999999998" y1="292.4" x2="238.95999999999998" y2="297.0206558146912" stroke="#000" stroke-width="1.1" />
<line x1="238.95999999999998" y1="296.6308315433553" x2="238.95999999999998" y2="301.4" stroke="#000" stroke-width="1.1" />
<line x1="245.51999999999998" y1="299.6" x2="245.51999999999998" y2="305.05333968274084" stroke="#000" stroke-width="1.1" />
<line x1="245.51999999999998" y1="286.257926947519" x2="245.51999999999998" y2="291.2" stroke="#000" stroke-width="1.1" />
<line x1="252.07999999999998" y1="299.0" x2="252.07999999999998" y2="304.0086417574222" stroke="#000" stroke-width="1.1" />
<line x1="252.07999999999998" y1="299.50049906514505" x2="252.07999999999998" y2="304.4" stroke="#000" stroke-width="1.1" />
<line x1="258.64" y1="297.2" x2="258.64" y2="302.25738897015884" stroke="#000" stroke-width="1.1" />
<line x1="258.64" y1="290.59387426048096" x2="258.64" y2="295.4" stroke="#000" stroke-width="1.1" />
<line x1="265.2" y1="303.8" x2="265.2" y2="309" stroke="#000" stroke-width="1.2" />
<line x1="265.2" y1="289.18804162073945" x2="265.2" y2="293.6" stroke="#000" stroke-width="1.1" />
<line x1="271.76" y1="293.6" x2="271.76" y2="299.39484364101884" stroke="#000" stroke-width="1.1" />
<line x1="271.76" y1="293.00947838835634" x2="271.76" y2="299.0" stroke="#000" stroke-width="1.1" />
<line x1="278.32" y1="296.0" x2="278.32" y2="301.4484742088843" stroke="#000" stroke-width="1.1" />
<line x1="278.32" y1="287.0428188327045" x2="278.32" y2="292.4" stroke="#000" stroke-width="1.1" />
<line x1="284.88" y1="300.0" x2="284.88" y2="304.2936098774342" stroke="#000" stroke-width="1.1" />
<line x1="284.88" y1="299.1947350164626" x2="284.88" y2="303.5" stroke="#000" stroke-width="1.1" />
<line x1="291.44" y1="298.2" x2="291.44" y2="302.43588788409124" stroke="#000" stroke-width="1.1" />
<line x1="291.44" y1="312" x2="291.44" y2="317" stroke="#000" stroke-width="1.2" />
<line x1="298.0" y1="297.6" x2="298.0" y2="301.3544916990319" stroke="#000" stroke-width="1.1" />
<line x1="298.0" y1="288.5141666498971" x2="298.0" y2="294.0" stroke="#000" stroke-width="1.1" />
<line x1="304.56" y1="303.0" x2="304.56" y2="307.4808795708207" stroke="#000" stroke-width="1.1" />
<line x1="304.56" y1="293.7375160318614" x2="304.56" y2="299.4" stroke="#000" stroke-width="1.1" />
<line x1="311.12" y1="297.0" x2="311.12" y2="301.45032976975307" stroke="#000" stroke-width="1.1" />
<line x1="311.12" y1="294.0923067566964" x2="311.12" y2="300.0" stroke="#000" stroke-width="1.1" />
<line x1="317.67999999999995" y1="295.2" x2="317.67999999999995" y2="300.6640815012662" stroke="#000" stroke-width="1.1" />
<line x1="317.67999999999995" y1="290.19880113847773" x2="317.67999999999995" y2="294.0" stroke="#000" stroke-width="1.1" />
<line x1="324.24" y1="300.6" x2="324.24" y2="304.6613783124052" stroke="#000" stroke-width="1.1" />
<line x1="324.24" y1="292.39740175817076" x2="324.24" y2="298.2" stroke="#000" stroke-width="1.1" />
<line x1="330.79999999999995" y1="292.8" x2="330.79999999999995" y2="297.4339720072301" stroke="#000" stroke-width="1.1" />
<line x1="330.79999999999995" y1="291.64321032941655" x2="330.79999999999995" y2="297.6" stroke="#000" stroke-width="1.1" />
<line x1="337.36" y1="301.2" x2="337.36" y2="305.67433365377445" stroke="#000" stroke-width="1.1" />
<line x1="337.36" y1="300.83931564356584" x2="337.36" y2="304.8" stroke="#000" stroke-width="1.1" />
<line x1="343.91999999999996" y1="296.4" x2="343.91999999999996" y2="301.3848008069148" stroke="#000" stroke-width="1.1" />
<line x1="343.91999999999996" y1="295.68727611091134" x2="343.91999999999996" y2="301.2" stroke="#000" stroke-width="1.1" />
<line x1="350.48" y1="301.8" x2="350.48" y2="305.99350629107033" stroke="#000" stroke-width="1.1" />
<line x1="350.48" y1="299.00828276362523" x2="350.48" y2="303.0" stroke="#000" stroke-width="1.1" />
<line x1="357.03999999999996" y1="302.0" x2="357.03999999999996" y2="306.3316883760194" stroke="#000" stroke-width="1.1" />
<line x1="357.03999999999996" y1="298.87903232349373" x2="357.03999999999996" y2="304.8" stroke="#000" stroke-width="1.1" />
<line x1="363.6" y1="305.0" x2="363.6" y2="310.2676891373863" stroke="#000" stroke-width="1.1" />
<line x1="363.6" y1="308.940418305277" x2="363.6" y2="313.0" stroke="#000" stroke-width="1.1" />
<line x1="370.15999999999997" y1="309.5" x2="370.15999999999997" y2="313.6420534875649" stroke="#000" stroke-width="1.1" />
<line x1="370.15999999999997" y1="307.5776981202953" x2="370.15999999999997" y2="311.6" stroke="#000" stroke-width="1.1" />
<line x1="376.72" y1="326.9" x2="376.72" y2="335.3" stroke="#000" stroke-width="1.2" />
<line x1="376.72" y1="303.0682345135296" x2="376.72" y2="307.0" stroke="#000" stroke-width="1.1" />
<line x1="383.28" y1="304.6" x2="383.28" y2="314" stroke="#000" stroke-width="1.2" />
<line x1="383.28" y1="314.14655267394323" x2="383.28" y2="319.7" stroke="#000" stroke-width="1.1" />
<line x1="389.84" y1="309.4" x2="389.84" y2="313.3908918820364" stroke="#000" stroke-width="1.1" />
<line x1="389.84" y1="309.1695506884571" x2="389.84" y2="314.2" stroke="#000" stroke-width="1.1" />
<line x1="396.4" y1="317.9" x2="396.4" y2="322.48433473050227" stroke="#000" stroke-width="1.1" />
<line x1="396.4" y1="307.5804942863612" x2="396.4" y2="311.8" stroke="#000" stroke-width="1.1" />
<line x1="402.96" y1="328.1" x2="402.96" y2="334" stroke="#000" stroke-width="1.2" />
<line x1="402.96" y1="314.88983272542845" x2="402.96" y2="320.3" stroke="#000" stroke-width="1.1" />
<line x1="409.52" y1="310.6" x2="409.52" y2="314.4881275841766" stroke="#000" stroke-width="1.1" />
<line x1="409.52" y1="313.78382672783545" x2="409.52" y2="319.0" stroke="#000" stroke-width="1.1" />
<line x1="416.08" y1="319.0" x2="416.08" y2="322.85631757280737" stroke="#000" stroke-width="1.1" />
<line x1="416.08" y1="300" x2="416.08" y2="305.5" stroke="#000" stroke-width="1.2" />
<line x1="422.64" y1="324.5" x2="422.64" y2="332.9" stroke="#000" stroke-width="1.2" />
<line x1="422.64" y1="313.77433764205784" x2="422.64" y2="318.5" stroke="#000" stroke-width="1.1" />
<line x1="429.2" y1="326.3" x2="429.2" y2="331.7" stroke="#000" stroke-width="1.2" />
<line x1="429.2" y1="306.73169551937997" x2="429.2" y2="311.0" stroke="#000" stroke-width="1.1" />
<line x1="435.76" y1="321.0" x2="435.76" y2="325.19354894981933" stroke="#000" stroke-width="1.1" />
<line x1="435.76" y1="312.76395607631883" x2="435.76" y2="318.7" stroke="#000" stroke-width="1.1" />
<line x1="442.32" y1="323.0" x2="442.32" y2="328.3675053067806" stroke="#000" stroke-width="1.1" />
<line x1="442.32" y1="324" x2="442.32" y2="332.3" stroke="#000" stroke-width="1.2" />
<line x1="448.88" y1="322.0" x2="448.88" y2="326.2691193297162" stroke="#000" stroke-width="1.1" />
<line x1="448.88" y1="318.4532967519522" x2="448.88" y2="324.2" stroke="#000" stroke-width="1.1" />
<line x1="455.44" y1="319.0" x2="455.44" y2="323.06356248715576" stroke="#000" stroke-width="1.1" />
<line x1="455.44" y1="305.2" x2="455.44" y2="310.6" stroke="#000" stroke-width="1.2" />
<line x1="462.0" y1="326.0" x2="462.0" y2="330.46740420155857" stroke="#000" stroke-width="1.1" />
<line x1="462.0" y1="321.2203708162573" x2="462.0" y2="326.9" stroke="#000" stroke-width="1.1" />
<line x1="468.56" y1="330.2" x2="468.56" y2="335" stroke="#000" stroke-width="1.2" />
<line x1="468.56" y1="314.487961555501" x2="468.56" y2="319.7" stroke="#000" stroke-width="1.1" />
<line x1="475.12" y1="325.0" x2="475.12" y2="328.8207320548046" stroke="#000" stroke-width="1.1" />
<line x1="475.12" y1="317" x2="475.12" y2="333" stroke="#000" stroke-width="1.2" />
<line x1="481.68" y1="320.9" x2="481.68" y2="326.6764637345224" stroke="#000" stroke-width="1.1" />
<line x1="481.68" y1="322.03086458912946" x2="481.68" y2="326.3" stroke="#000" stroke-width="1.1" />
<line x1="488.23999999999995" y1="332.9" x2="488.23999999999995" y2="338" stroke="#000" stroke-width="1.2" />
<line x1="488.23999999999995" y1="311.8" x2="488.23999999999995" y2="316.6" stroke="#000" stroke-width="1.2" />
<line x1="494.79999999999995" y1="328.1" x2="494.79999999999995" y2="332.2682106272956" stroke="#000" stroke-width="1.1" />
<line x1="494.79999999999995" y1="329.3" x2="494.79999999999995" y2="335.3" stroke="#000" stroke-width="1.2" />
<line x1="501.35999999999996" y1="315.8" x2="501.35999999999996" y2="321.0999173175002" stroke="#000" stroke-width="1.1" />
<line x1="501.35999999999996" y1="315.77629806379497" x2="501.35999999999996" y2="320.3" stroke="#000" stroke-width="1.1" />
<line x1="507.91999999999996" y1="336.5" x2="507.91999999999996" y2="341" stroke="#000" stroke-width="1.2" />
<line x1="507.91999999999996" y1="324.2480855222823" x2="507.91999999999996" y2="328.7" stroke="#000" stroke-width="1.1" />
<line x1="514.48" y1="328.1" x2="514.48" y2="331.86147681745456" stroke="#000" stroke-width="1.1" />
<line x1="514.48" y1="317.3" x2="514.48" y2="337.7" stroke="#000" stroke-width="1.2" />
<line x1="521.04" y1="319.0" x2="521.04" y2="322.7982577805163" stroke="#000" stroke-width="1.1" />
<line x1="521.04" y1="324.2179834440314" x2="521.04" y2="329.3" stroke="#000" stroke-width="1.1" />
<line x1="527.5999999999999" y1="327.0" x2="527.5999999999999" y2="331.13462842430266" stroke="#000" stroke-width="1.1" />
<line x1="527.5999999999999" y1="324.67717554411973" x2="527.5999999999999" y2="329.8" stroke="#000" stroke-width="1.1" />
<line x1="534.16" y1="327" x2="534.16" y2="336.2" stroke="#000" stroke-width="1.2" />
<line x1="534.16" y1="342.6" x2="534.16" y2="351.1" stroke="#000" stroke-width="1.2" />
<line x1="540.72" y1="341" x2="540.72" y2="351.4" stroke="#000" stroke-width="1.2" />
<line x1="540.72" y1="359.5" x2="540.72" y2="369.9" stroke="#000" stroke-width="1.2" />
<line x1="547.28" y1="365.6" x2="547.28" y2="372" stroke="#000" stroke-width="1.2" />
<line x1="547.28" y1="374.1822510974949" x2="547.28" y2="378.8" stroke="#000" stroke-width="1.1" />
<line x1="553.8399999999999" y1="371" x2="553.8399999999999" y2="388.4" stroke="#000" stroke-width="1.2" />
<line x1="553.8399999999999" y1="380.1029421696075" x2="553.8399999999999" y2="384.9" stroke="#000" stroke-width="1.1" />
<line x1="560.4" y1="397.2" x2="560.4" y2="412.5" stroke="#000" stroke-width="1.2" />
<line x1="560.4" y1="368.3" x2="560.4" y2="383.3" stroke="#000" stroke-width="1.2" />
<line x1="566.96" y1="390.3" x2="566.96" y2="396.0100962794721" stroke="#000" stroke-width="1.1" />
<line x1="566.96" y1="387.6" x2="566.96" y2="401.3" stroke="#000" stroke-width="1.2" />
<line x1="573.52" y1="409" x2="573.52" y2="420" stroke="#000" stroke-width="1.2" />
<line x1="573.52" y1="387" x2="573.52" y2="395.6" stroke="#000" stroke-width="1.2" />
<line x1="580.0799999999999" y1="398" x2="580.0799999999999" y2="424.5" stroke="#000" stroke-width="1.2" />
<line x1="580.0799999999999" y1="405.13580602682237" x2="580.0799999999999" y2="410.0" stroke="#000" stroke-width="1.1" />
<line x1="586.64" y1="419" x2="586.64" y2="430.5" stroke="#000" stroke-width="1.2" />
<line x1="586.64" y1="401.6" x2="586.64" y2="407.5" stroke="#000" stroke-width="1.2" />
<line x1="593.2" y1="411.2" x2="593.2" y2="428" stroke="#000" stroke-width="1.2" />
<line x1="593.2" y1="413.1359432600541" x2="593.2" y2="418.2" stroke="#000" stroke-width="1.1" />
<line x1="599.76" y1="423.5" x2="599.76" y2="429.0063564691649" stroke="#000" stroke-width="1.1" />
<line x1="599.76" y1="426.8977790252869" x2="599.76" y2="431.1" stroke="#000" stroke-width="1.1" />
<line x1="606.3199999999999" y1="421.5" x2="606.3199999999999" y2="425.43909770163737" stroke="#000" stroke-width="1.1" />
<line x1="606.3199999999999" y1="418.1014677919265" x2="606.3199999999999" y2="423.9" stroke="#000" stroke-width="1.1" />
<line x1="612.88" y1="429.3" x2="612.88" y2="434.69916428881123" stroke="#000" stroke-width="1.1" />
<line x1="612.88" y1="422" x2="612.88" y2="431.7" stroke="#000" stroke-width="1.2" />
<line x1="619.44" y1="437.7" x2="619.44" y2="441.8488968461444" stroke="#000" stroke-width="1.1" />
<line x1="619.44" y1="427.5" x2="619.44" y2="432.9" stroke="#000" stroke-width="1.2" />
<line x1="626.0" y1="429.9" x2="626.0" y2="433.91756146511915" stroke="#000" stroke-width="1.1" />
<line x1="626.0" y1="418.5" x2="626.0" y2="423" stroke="#000" stroke-width="1.2" />
<line x1="632.56" y1="438.6" x2="632.56" y2="443.82673365759666" stroke="#000" stroke-width="1.1" />
<line x1="632.56" y1="425.83110922859123" x2="632.56" y2="431.7" stroke="#000" stroke-width="1.1" />
<line x1="639.1199999999999" y1="434.7" x2="639.1199999999999" y2="438.7324975498866" stroke="#000" stroke-width="1.1" />
<line x1="639.1199999999999" y1="426.40970112492096" x2="639.1199999999999" y2="432.3" stroke="#000" stroke-width="1.1" />
<line x1="645.68" y1="440.1" x2="645.68" y2="445.64081745938614" stroke="#000" stroke-width="1.1" />
<line x1="645.68" y1="420.9" x2="645.68" y2="426.6" stroke="#000" stroke-width="1.2" />
<line x1="652.24" y1="439.5" x2="652.24" y2="444.4277752725236" stroke="#000" stroke-width="1.1" />
<line x1="652.24" y1="427.5727941073158" x2="652.24" y2="432.3" stroke="#000" stroke-width="1.1" />
<circle cx="140.6" cy="290.7" r="3.0" fill="#fff" stroke="#000" stroke-width="1.3"/>
<circle cx="147.1" cy="301.9" r="3.0" fill="#fff" stroke="#000" stroke-width="1.3"/>
<circle cx="153.7" cy="300.8" r="3.0" fill="#fff" stroke="#000" stroke-width="1.3"/>
<circle cx="160.2" cy="295.8" r="3.0" fill="#fff" stroke="#000" stroke-width="1.3"/>
<circle cx="166.8" cy="301.3" r="3.0" fill="#fff" stroke="#000" stroke-width="1.3"/>
<circle cx="173.4" cy="295.1" r="3.0" fill="#fff" stroke="#000" stroke-width="1.3"/>
<circle cx="179.9" cy="294.4" r="3.0" fill="#fff" stroke="#000" stroke-width="1.3"/>
<circle cx="186.5" cy="300.9" r="3.0" fill="#fff" stroke="#000" stroke-width="1.3"/>
<circle cx="193.0" cy="297.5" r="3.0" fill="#fff" stroke="#000" stroke-width="1.3"/>
<circle cx="199.6" cy="290.9" r="3.0" fill="#fff" stroke="#000" stroke-width="1.3"/>
<circle cx="206.2" cy="290.6" r="3.0" fill="#fff" stroke="#000" stroke-width="1.3"/>
<circle cx="212.7" cy="298.0" r="3.0" fill="#fff" stroke="#000" stroke-width="1.3"/>
<circle cx="219.3" cy="294.0" r="3.0" fill="#fff" stroke="#000" stroke-width="1.3"/>
<circle cx="225.8" cy="294.8" r="3.0" fill="#fff" stroke="#000" stroke-width="1.3"/>
<circle cx="232.4" cy="297.2" r="3.0" fill="#fff" stroke="#000" stroke-width="1.3"/>
<circle cx="239.0" cy="292.4" r="3.0" fill="#fff" stroke="#000" stroke-width="1.3"/>
<circle cx="245.5" cy="299.6" r="3.0" fill="#fff" stroke="#000" stroke-width="1.3"/>
<circle cx="252.1" cy="299.0" r="3.0" fill="#fff" stroke="#000" stroke-width="1.3"/>
<circle cx="258.6" cy="297.2" r="3.0" fill="#fff" stroke="#000" stroke-width="1.3"/>
<circle cx="265.2" cy="303.8" r="3.0" fill="#fff" stroke="#000" stroke-width="1.3"/>
<circle cx="271.8" cy="293.6" r="3.0" fill="#fff" stroke="#000" stroke-width="1.3"/>
<circle cx="278.3" cy="296.0" r="3.0" fill="#fff" stroke="#000" stroke-width="1.3"/>
<circle cx="284.9" cy="300.0" r="3.0" fill="#fff" stroke="#000" stroke-width="1.3"/>
<circle cx="291.4" cy="298.2" r="3.0" fill="#fff" stroke="#000" stroke-width="1.3"/>
<circle cx="298.0" cy="297.6" r="3.0" fill="#fff" stroke="#000" stroke-width="1.3"/>
<circle cx="304.6" cy="303.0" r="3.0" fill="#fff" stroke="#000" stroke-width="1.3"/>
<circle cx="311.1" cy="297.0" r="3.0" fill="#fff" stroke="#000" stroke-width="1.3"/>
<circle cx="317.7" cy="295.2" r="3.0" fill="#fff" stroke="#000" stroke-width="1.3"/>
<circle cx="324.2" cy="300.6" r="3.0" fill="#fff" stroke="#000" stroke-width="1.3"/>
<circle cx="330.8" cy="292.8" r="3.0" fill="#fff" stroke="#000" stroke-width="1.3"/>
<circle cx="337.4" cy="301.2" r="3.0" fill="#fff" stroke="#000" stroke-width="1.3"/>
<circle cx="343.9" cy="296.4" r="3.0" fill="#fff" stroke="#000" stroke-width="1.3"/>
<circle cx="350.5" cy="301.8" r="3.0" fill="#fff" stroke="#000" stroke-width="1.3"/>
<circle cx="357.0" cy="302.0" r="3.0" fill="#fff" stroke="#000" stroke-width="1.3"/>
<circle cx="363.6" cy="305.0" r="3.0" fill="#fff" stroke="#000" stroke-width="1.3"/>
<circle cx="370.2" cy="309.5" r="3.0" fill="#fff" stroke="#000" stroke-width="1.3"/>
<circle cx="376.7" cy="326.9" r="3.0" fill="#fff" stroke="#000" stroke-width="1.3"/>
<circle cx="383.3" cy="304.6" r="3.0" fill="#fff" stroke="#000" stroke-width="1.3"/>
<circle cx="389.8" cy="309.4" r="3.0" fill="#fff" stroke="#000" stroke-width="1.3"/>
<circle cx="396.4" cy="317.9" r="3.0" fill="#fff" stroke="#000" stroke-width="1.3"/>
<circle cx="403.0" cy="328.1" r="3.0" fill="#fff" stroke="#000" stroke-width="1.3"/>
<circle cx="409.5" cy="310.6" r="3.0" fill="#fff" stroke="#000" stroke-width="1.3"/>
<circle cx="416.1" cy="319.0" r="3.0" fill="#fff" stroke="#000" stroke-width="1.3"/>
<circle cx="422.6" cy="324.5" r="3.0" fill="#fff" stroke="#000" stroke-width="1.3"/>
<circle cx="429.2" cy="326.3" r="3.0" fill="#fff" stroke="#000" stroke-width="1.3"/>
<circle cx="435.8" cy="321.0" r="3.0" fill="#fff" stroke="#000" stroke-width="1.3"/>
<circle cx="442.3" cy="323.0" r="3.0" fill="#fff" stroke="#000" stroke-width="1.3"/>
<circle cx="448.9" cy="322.0" r="3.0" fill="#fff" stroke="#000" stroke-width="1.3"/>
<circle cx="455.4" cy="319.0" r="3.0" fill="#fff" stroke="#000" stroke-width="1.3"/>
<circle cx="462.0" cy="326.0" r="3.0" fill="#fff" stroke="#000" stroke-width="1.3"/>
<circle cx="468.6" cy="330.2" r="3.0" fill="#fff" stroke="#000" stroke-width="1.3"/>
<circle cx="475.1" cy="325.0" r="3.0" fill="#fff" stroke="#000" stroke-width="1.3"/>
<circle cx="481.7" cy="320.9" r="3.0" fill="#fff" stroke="#000" stroke-width="1.3"/>
<circle cx="488.2" cy="332.9" r="3.0" fill="#fff" stroke="#000" stroke-width="1.3"/>
<circle cx="494.8" cy="328.1" r="3.0" fill="#fff" stroke="#000" stroke-width="1.3"/>
<circle cx="501.4" cy="315.8" r="3.0" fill="#fff" stroke="#000" stroke-width="1.3"/>
<circle cx="507.9" cy="336.5" r="3.0" fill="#fff" stroke="#000" stroke-width="1.3"/>
<circle cx="514.5" cy="328.1" r="3.0" fill="#fff" stroke="#000" stroke-width="1.3"/>
<circle cx="521.0" cy="319.0" r="3.0" fill="#fff" stroke="#000" stroke-width="1.3"/>
<circle cx="527.6" cy="327.0" r="3.0" fill="#fff" stroke="#000" stroke-width="1.3"/>
<circle cx="534.2" cy="327.0" r="3.0" fill="#fff" stroke="#000" stroke-width="1.3"/>
<circle cx="540.7" cy="341.0" r="3.0" fill="#fff" stroke="#000" stroke-width="1.3"/>
<circle cx="547.3" cy="365.6" r="3.0" fill="#fff" stroke="#000" stroke-width="1.3"/>
<circle cx="553.8" cy="371.0" r="3.0" fill="#fff" stroke="#000" stroke-width="1.3"/>
<circle cx="560.4" cy="397.2" r="3.0" fill="#fff" stroke="#000" stroke-width="1.3"/>
<circle cx="567.0" cy="390.3" r="3.0" fill="#fff" stroke="#000" stroke-width="1.3"/>
<circle cx="573.5" cy="409.0" r="3.0" fill="#fff" stroke="#000" stroke-width="1.3"/>
<circle cx="580.1" cy="416.6" r="3.0" fill="#fff" stroke="#000" stroke-width="1.3"/>
<circle cx="586.6" cy="419.0" r="3.0" fill="#fff" stroke="#000" stroke-width="1.3"/>
<circle cx="593.2" cy="420.9" r="3.0" fill="#fff" stroke="#000" stroke-width="1.3"/>
<circle cx="599.8" cy="423.5" r="3.0" fill="#fff" stroke="#000" stroke-width="1.3"/>
<circle cx="606.3" cy="421.5" r="3.0" fill="#fff" stroke="#000" stroke-width="1.3"/>
<circle cx="612.9" cy="429.3" r="3.0" fill="#fff" stroke="#000" stroke-width="1.3"/>
<circle cx="619.4" cy="437.7" r="3.0" fill="#fff" stroke="#000" stroke-width="1.3"/>
<circle cx="626.0" cy="429.9" r="3.0" fill="#fff" stroke="#000" stroke-width="1.3"/>
<circle cx="632.6" cy="438.6" r="3.0" fill="#fff" stroke="#000" stroke-width="1.3"/>
<circle cx="639.1" cy="434.7" r="3.0" fill="#fff" stroke="#000" stroke-width="1.3"/>
<circle cx="645.7" cy="440.1" r="3.0" fill="#fff" stroke="#000" stroke-width="1.3"/>
<circle cx="652.2" cy="439.5" r="3.0" fill="#fff" stroke="#000" stroke-width="1.3"/>
<circle cx="140.6" cy="302.0" r="3.55" fill="#000"/>
<circle cx="147.1" cy="288.6" r="3.55" fill="#000"/>
<circle cx="153.7" cy="297.6" r="3.55" fill="#000"/>
<circle cx="160.2" cy="307.5" r="3.55" fill="#000"/>
<circle cx="166.8" cy="298.4" r="3.55" fill="#000"/>
<circle cx="173.4" cy="297.7" r="3.55" fill="#000"/>
<circle cx="179.9" cy="296.7" r="3.55" fill="#000"/>
<circle cx="186.5" cy="294.7" r="3.55" fill="#000"/>
<circle cx="193.0" cy="291.7" r="3.55" fill="#000"/>
<circle cx="199.6" cy="298.4" r="3.55" fill="#000"/>
<circle cx="206.2" cy="299.1" r="3.55" fill="#000"/>
<circle cx="212.7" cy="299.0" r="3.55" fill="#000"/>
<circle cx="219.3" cy="300.8" r="3.55" fill="#000"/>
<circle cx="225.8" cy="287.0" r="3.55" fill="#000"/>
<circle cx="232.4" cy="302.6" r="3.55" fill="#000"/>
<circle cx="239.0" cy="301.4" r="3.55" fill="#000"/>
<circle cx="245.5" cy="291.2" r="3.55" fill="#000"/>
<circle cx="252.1" cy="304.4" r="3.55" fill="#000"/>
<circle cx="258.6" cy="295.4" r="3.55" fill="#000"/>
<circle cx="265.2" cy="293.6" r="3.55" fill="#000"/>
<circle cx="271.8" cy="299.0" r="3.55" fill="#000"/>
<circle cx="278.3" cy="292.4" r="3.55" fill="#000"/>
<circle cx="284.9" cy="303.5" r="3.55" fill="#000"/>
<circle cx="291.4" cy="312.0" r="3.55" fill="#000"/>
<circle cx="298.0" cy="294.0" r="3.55" fill="#000"/>
<circle cx="304.6" cy="299.4" r="3.55" fill="#000"/>
<circle cx="311.1" cy="300.0" r="3.55" fill="#000"/>
<circle cx="317.7" cy="294.0" r="3.55" fill="#000"/>
<circle cx="324.2" cy="298.2" r="3.55" fill="#000"/>
<circle cx="330.8" cy="297.6" r="3.55" fill="#000"/>
<circle cx="337.4" cy="304.8" r="3.55" fill="#000"/>
<circle cx="343.9" cy="301.2" r="3.55" fill="#000"/>
<circle cx="350.5" cy="303.0" r="3.55" fill="#000"/>
<circle cx="357.0" cy="304.8" r="3.55" fill="#000"/>
<circle cx="363.6" cy="313.0" r="3.55" fill="#000"/>
<circle cx="370.2" cy="311.6" r="3.55" fill="#000"/>
<circle cx="376.7" cy="307.0" r="3.55" fill="#000"/>
<circle cx="383.3" cy="319.7" r="3.55" fill="#000"/>
<circle cx="389.8" cy="314.2" r="3.55" fill="#000"/>
<circle cx="396.4" cy="311.8" r="3.55" fill="#000"/>
<circle cx="403.0" cy="320.3" r="3.55" fill="#000"/>
<circle cx="409.5" cy="319.0" r="3.55" fill="#000"/>
<circle cx="416.1" cy="305.5" r="3.55" fill="#000"/>
<circle cx="422.6" cy="318.5" r="3.55" fill="#000"/>
<circle cx="429.2" cy="311.0" r="3.55" fill="#000"/>
<circle cx="435.8" cy="318.7" r="3.55" fill="#000"/>
<circle cx="442.3" cy="324.0" r="3.55" fill="#000"/>
<circle cx="448.9" cy="324.2" r="3.55" fill="#000"/>
<circle cx="455.4" cy="310.6" r="3.55" fill="#000"/>
<circle cx="462.0" cy="326.9" r="3.55" fill="#000"/>
<circle cx="468.6" cy="319.7" r="3.55" fill="#000"/>
<circle cx="475.1" cy="325.7" r="3.55" fill="#000"/>
<circle cx="481.7" cy="326.3" r="3.55" fill="#000"/>
<circle cx="488.2" cy="316.6" r="3.55" fill="#000"/>
<circle cx="494.8" cy="329.3" r="3.55" fill="#000"/>
<circle cx="501.4" cy="320.3" r="3.55" fill="#000"/>
<circle cx="507.9" cy="328.7" r="3.55" fill="#000"/>
<circle cx="514.5" cy="322.7" r="3.55" fill="#000"/>
<circle cx="521.0" cy="329.3" r="3.55" fill="#000"/>
<circle cx="527.6" cy="329.8" r="3.55" fill="#000"/>
<circle cx="534.2" cy="351.1" r="3.55" fill="#000"/>
<circle cx="540.7" cy="369.9" r="3.55" fill="#000"/>
<circle cx="547.3" cy="378.8" r="3.55" fill="#000"/>
<circle cx="553.8" cy="384.9" r="3.55" fill="#000"/>
<circle cx="560.4" cy="383.3" r="3.55" fill="#000"/>
<circle cx="567.0" cy="401.3" r="3.55" fill="#000"/>
<circle cx="573.5" cy="395.6" r="3.55" fill="#000"/>
<circle cx="580.1" cy="410.0" r="3.55" fill="#000"/>
<circle cx="586.6" cy="407.5" r="3.55" fill="#000"/>
<circle cx="593.2" cy="418.2" r="3.55" fill="#000"/>
<circle cx="599.8" cy="431.1" r="3.55" fill="#000"/>
<circle cx="606.3" cy="423.9" r="3.55" fill="#000"/>
<circle cx="612.9" cy="431.7" r="3.55" fill="#000"/>
<circle cx="619.4" cy="432.9" r="3.55" fill="#000"/>
<circle cx="626.0" cy="423.0" r="3.55" fill="#000"/>
<circle cx="632.6" cy="431.7" r="3.55" fill="#000"/>
<circle cx="639.1" cy="432.3" r="3.55" fill="#000"/>
<circle cx="645.7" cy="426.6" r="3.55" fill="#000"/>
<circle cx="652.2" cy="432.3" r="3.55" fill="#000"/>
<text transform="translate(293.6 286.4) scale(0.93 1)" font-size="18" text-anchor="start" font-weight="bold" >a</text>
<text transform="translate(501.0 303.4) scale(0.93 1)" font-size="18" text-anchor="start" font-weight="bold" >b</text>
<text transform="translate(628.4 412.5) scale(0.93 1)" font-size="18" text-anchor="start" font-weight="bold" >c</text>
<circle cx="372.5" cy="408.5" r="2.7" fill="#fff" stroke="#000" stroke-width="1.4"/>
<circle cx="373.3" cy="429.5" r="3.3" fill="#000"/>
<text x="387.2" y="413.3" font-size="14.2" text-anchor="start" font-weight="normal" textLength="92" lengthAdjust="spacingAndGlyphs" >Control (n=19)</text>
<text x="388.4" y="434.2" font-size="14.2" text-anchor="start" font-weight="normal" textLength="92" lengthAdjust="spacingAndGlyphs" >Ethanol (n=21)</text>
<text x="163.3" y="529.9" font-size="20" text-anchor="start" font-weight="normal" textLength="123.5" lengthAdjust="spacingAndGlyphs" >Postnatal Day</text>
<text x="135.6" y="553" font-size="16.5" text-anchor="start" font-weight="normal" textLength="19.8" lengthAdjust="spacingAndGlyphs" >P4</text>
<text x="214.7" y="553" font-size="16.5" text-anchor="start" font-weight="normal" textLength="19.8" lengthAdjust="spacingAndGlyphs" >P5</text>
<text x="294" y="553" font-size="16.5" text-anchor="start" font-weight="normal" textLength="19.8" lengthAdjust="spacingAndGlyphs" >P6</text>
<line x1="105.6" y1="556.8" x2="105.6" y2="718.3" stroke="#000" stroke-width="2.5" />
<line x1="100.3" y1="558" x2="345.2" y2="558" stroke="#000" stroke-width="2.4" />
<line x1="100.3" y1="558.0" x2="105.6" y2="558.0" stroke="#000" stroke-width="2.2" />
<text x="99.2" y="565.0" font-size="18.5" text-anchor="end" font-weight="normal" >0</text>
<line x1="100.3" y1="611.1" x2="105.6" y2="611.1" stroke="#000" stroke-width="2.2" />
<text x="70.1" y="618.3000000000001" font-size="18.5" text-anchor="start" font-weight="normal" textLength="28.7" lengthAdjust="spacingAndGlyphs" >-10</text>
<line x1="100.3" y1="664.2" x2="105.6" y2="664.2" stroke="#000" stroke-width="2.2" />
<text x="70.1" y="671.4000000000001" font-size="18.5" text-anchor="start" font-weight="normal" textLength="28.7" lengthAdjust="spacingAndGlyphs" >-20</text>
<line x1="100.3" y1="717.3" x2="105.6" y2="717.3" stroke="#000" stroke-width="2.2" />
<text x="70.1" y="724.5" font-size="18.5" text-anchor="start" font-weight="normal" textLength="28.7" lengthAdjust="spacingAndGlyphs" >-30</text>
<line x1="131.14999999999998" y1="683.3" x2="131.14999999999998" y2="702.8" stroke="#000" stroke-width="2" />
<line x1="124.84999999999998" y1="702.8" x2="137.45" y2="702.8" stroke="#000" stroke-width="2.1" />
<rect x="120.3" y="557.6" width="21.7" height="124.5" fill="#fff" stroke="#000" stroke-width="2.4"/>
<text x="129.74999999999997" y="581.2" font-size="18.5" text-anchor="middle" font-weight="normal" >6</text>
<line x1="159.55" y1="651.4" x2="159.55" y2="663.4" stroke="#000" stroke-width="2" />
<line x1="153.25" y1="663.4" x2="165.85000000000002" y2="663.4" stroke="#000" stroke-width="2.1" />
<rect x="148.7" y="557.6" width="21.7" height="92.6" fill="#a8a8a8" stroke="#000" stroke-width="2.4"/>
<text x="160.15" y="581.2" font-size="18.5" text-anchor="middle" font-weight="normal" >7</text>
<line x1="210.7" y1="640.4" x2="210.7" y2="660.0" stroke="#000" stroke-width="2" />
<line x1="204.39999999999998" y1="660.0" x2="217.0" y2="660.0" stroke="#000" stroke-width="2.1" />
<rect x="199.4" y="557.6" width="22.6" height="81.6" fill="#fff" stroke="#000" stroke-width="2.4"/>
<text x="210.79999999999998" y="581.2" font-size="18.5" text-anchor="middle" font-weight="normal" >4</text>
<line x1="239.3" y1="650.4" x2="239.3" y2="663.5" stroke="#000" stroke-width="2" />
<line x1="233.0" y1="663.5" x2="245.60000000000002" y2="663.5" stroke="#000" stroke-width="2.1" />
<rect x="228.1" y="557.6" width="22.4" height="91.6" fill="#a8a8a8" stroke="#000" stroke-width="2.4"/>
<text x="238.3" y="581.2" font-size="18.5" text-anchor="middle" font-weight="normal" >10</text>
<line x1="289.95" y1="678.2" x2="289.95" y2="686.0" stroke="#000" stroke-width="2" />
<line x1="283.65" y1="686.0" x2="296.25" y2="686.0" stroke="#000" stroke-width="2.1" />
<rect x="278.9" y="557.6" width="22.1" height="119.4" fill="#fff" stroke="#000" stroke-width="2.4"/>
<text x="288.75" y="581.2" font-size="18.5" text-anchor="middle" font-weight="normal" >6</text>
<line x1="318.15" y1="664.8" x2="318.15" y2="672.4" stroke="#000" stroke-width="2" />
<line x1="311.84999999999997" y1="672.4" x2="324.45" y2="672.4" stroke="#000" stroke-width="2.1" />
<rect x="307.2" y="557.6" width="21.9" height="106.0" fill="#a8a8a8" stroke="#000" stroke-width="2.4"/>
<text x="318.15" y="581.2" font-size="18.5" text-anchor="middle" font-weight="normal" >4</text>
<rect x="247.8" y="699.5" width="22.4" height="12.5" fill="#fff" stroke="#000" stroke-width="2.3"/>
<rect x="247.8" y="717.7" width="22.4" height="12.6" fill="#a8a8a8" stroke="#000" stroke-width="2.3"/>
<text x="274" y="711.2" font-size="16.5" text-anchor="start" font-weight="normal" textLength="54.5" lengthAdjust="spacingAndGlyphs" >Control</text>
<text x="274.6" y="729.5" font-size="16.5" text-anchor="start" font-weight="normal" textLength="55.8" lengthAdjust="spacingAndGlyphs" >Ethanol</text>
<text transform="translate(35.9,632.65) rotate(-90)" font-size="17.8" text-anchor="middle" textLength="138.6" lengthAdjust="spacingAndGlyphs">NASPM-mediated</text>
<text transform="translate(57.6,630.7) rotate(-90)" font-size="17.8" text-anchor="middle" textLength="146.7" lengthAdjust="spacingAndGlyphs">fEPSP change (%)</text>
<text x="505.4" y="527.8" font-size="18.3" text-anchor="start" font-weight="normal" textLength="168.5" lengthAdjust="spacingAndGlyphs" >Serum [Ethanol], mM</text>
<line x1="464.1" y1="563" x2="464.1" y2="733.4" stroke="#000" stroke-width="2.4" />
<line x1="463" y1="564.2" x2="716.8" y2="564.2" stroke="#000" stroke-width="2.4" />
<line x1="500.13" y1="558.6" x2="500.13" y2="564.2" stroke="#000" stroke-width="2.2" />
<text x="500.33" y="553.8" font-size="17.5" text-anchor="middle" font-weight="normal" >10</text>
<line x1="536.1600000000001" y1="558.6" x2="536.1600000000001" y2="564.2" stroke="#000" stroke-width="2.2" />
<text x="536.3600000000001" y="553.8" font-size="17.5" text-anchor="middle" font-weight="normal" >20</text>
<line x1="572.19" y1="558.6" x2="572.19" y2="564.2" stroke="#000" stroke-width="2.2" />
<text x="572.3900000000001" y="553.8" font-size="17.5" text-anchor="middle" font-weight="normal" >30</text>
<line x1="608.22" y1="558.6" x2="608.22" y2="564.2" stroke="#000" stroke-width="2.2" />
<text x="608.4200000000001" y="553.8" font-size="17.5" text-anchor="middle" font-weight="normal" >40</text>
<line x1="644.25" y1="558.6" x2="644.25" y2="564.2" stroke="#000" stroke-width="2.2" />
<text x="644.45" y="553.8" font-size="17.5" text-anchor="middle" font-weight="normal" >50</text>
<line x1="680.28" y1="558.6" x2="680.28" y2="564.2" stroke="#000" stroke-width="2.2" />
<text x="680.48" y="553.8" font-size="17.5" text-anchor="middle" font-weight="normal" >60</text>
<line x1="716.3100000000001" y1="558.6" x2="716.3100000000001" y2="564.2" stroke="#000" stroke-width="2.2" />
<text x="716.5100000000001" y="553.8" font-size="17.5" text-anchor="middle" font-weight="normal" >70</text>
<line x1="458.5" y1="564.2" x2="464.1" y2="564.2" stroke="#000" stroke-width="2.2" />
<text x="457.6" y="570.2" font-size="17.2" text-anchor="end" font-weight="normal" >0</text>
<line x1="458.5" y1="620.45" x2="464.1" y2="620.45" stroke="#000" stroke-width="2.2" />
<text x="430.6" y="626.85" font-size="17.2" text-anchor="start" font-weight="normal" textLength="27.2" lengthAdjust="spacingAndGlyphs" >-10</text>
<line x1="458.5" y1="676.7" x2="464.1" y2="676.7" stroke="#000" stroke-width="2.2" />
<text x="430.6" y="683.1" font-size="17.2" text-anchor="start" font-weight="normal" textLength="27.2" lengthAdjust="spacingAndGlyphs" >-20</text>
<line x1="458.5" y1="732.95" x2="464.1" y2="732.95" stroke="#000" stroke-width="2.2" />
<text x="430.6" y="739.35" font-size="17.2" text-anchor="start" font-weight="normal" textLength="27.2" lengthAdjust="spacingAndGlyphs" >-30</text>
<text transform="translate(403.5,644.35) rotate(-90)" font-size="15.5" text-anchor="middle" textLength="128.6" lengthAdjust="spacingAndGlyphs">NASPM-mediated</text>
<text transform="translate(423.4,642.55) rotate(-90)" font-size="15.5" text-anchor="middle" textLength="139" lengthAdjust="spacingAndGlyphs">fEPSP Change (%)</text>
<line x1="544.8" y1="671.1" x2="693.8" y2="651.8" stroke="#000" stroke-width="2.1" />
<circle cx="575.1" cy="575.9" r="3.75" fill="none" stroke="#000" stroke-width="1.3"/>
<circle cx="577.8" cy="594.2" r="3.75" fill="none" stroke="#000" stroke-width="1.3"/>
<circle cx="632" cy="632.9" r="3.75" fill="none" stroke="#000" stroke-width="1.3"/>
<circle cx="632" cy="648.8" r="3.75" fill="none" stroke="#000" stroke-width="1.3"/>
<circle cx="625.2" cy="653.4" r="3.75" fill="none" stroke="#000" stroke-width="1.3"/>
<circle cx="625.2" cy="659.1" r="3.75" fill="none" stroke="#000" stroke-width="1.3"/>
<circle cx="632" cy="662" r="3.75" fill="none" stroke="#000" stroke-width="1.3"/>
<circle cx="636.4" cy="684.8" r="3.75" fill="none" stroke="#000" stroke-width="1.3"/>
<circle cx="560.1" cy="661.3" r="3.75" fill="none" stroke="#000" stroke-width="1.3"/>
<circle cx="555.1" cy="670.5" r="3.75" fill="none" stroke="#000" stroke-width="1.3"/>
<circle cx="560.1" cy="671.1" r="3.75" fill="none" stroke="#000" stroke-width="1.3"/>
<circle cx="575.1" cy="660.2" r="3.75" fill="none" stroke="#000" stroke-width="1.3"/>
<circle cx="578.3" cy="658.6" r="3.75" fill="none" stroke="#000" stroke-width="1.3"/>
<circle cx="544.8" cy="688" r="3.75" fill="none" stroke="#000" stroke-width="1.3"/>
<circle cx="544.8" cy="696.6" r="3.75" fill="none" stroke="#000" stroke-width="1.3"/>
<circle cx="555.5" cy="701.2" r="3.75" fill="none" stroke="#000" stroke-width="1.3"/>
<circle cx="575.1" cy="688.7" r="3.75" fill="none" stroke="#000" stroke-width="1.3"/>
<circle cx="582.4" cy="695.5" r="3.75" fill="none" stroke="#000" stroke-width="1.3"/>
<circle cx="582.4" cy="716.7" r="3.75" fill="none" stroke="#000" stroke-width="1.3"/>
<circle cx="692.9" cy="603.7" r="3.75" fill="none" stroke="#000" stroke-width="1.3"/>
<circle cx="692.9" cy="718.9" r="3.75" fill="none" stroke="#000" stroke-width="1.3"/>
</svg></body></html>
